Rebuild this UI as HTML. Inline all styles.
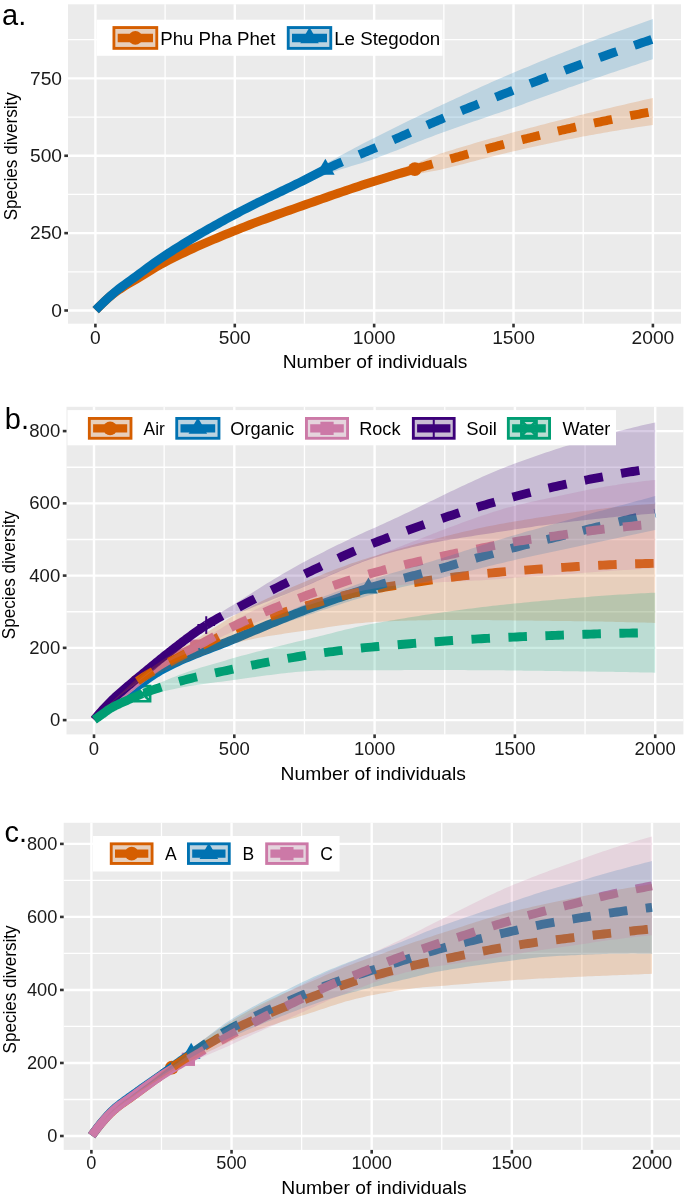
<!DOCTYPE html>
<html><head><meta charset="utf-8"><style>html,body{margin:0;padding:0;background:#fff;}svg{display:block;will-change:transform;}</style></head>
<body>
<svg width="685" height="1201" viewBox="0 0 685 1201">
<rect width="685" height="1201" fill="#FFFFFF"/>
<rect x="68" y="4.3" width="613" height="319.4" fill="#EBEBEB"/>
<g stroke="#FFFFFF"><line x1="165.09" y1="4.3" x2="165.09" y2="323.7" stroke-width="1.3"/><line x1="304.46" y1="4.3" x2="304.46" y2="323.7" stroke-width="1.3"/><line x1="443.84" y1="4.3" x2="443.84" y2="323.7" stroke-width="1.3"/><line x1="583.21" y1="4.3" x2="583.21" y2="323.7" stroke-width="1.3"/><line x1="68" y1="271.82" x2="681" y2="271.82" stroke-width="1.3"/><line x1="68" y1="194.45" x2="681" y2="194.45" stroke-width="1.3"/><line x1="68" y1="117.08" x2="681" y2="117.08" stroke-width="1.3"/><line x1="68" y1="39.71" x2="681" y2="39.71" stroke-width="1.3"/><line x1="95.4" y1="4.3" x2="95.4" y2="323.7" stroke-width="2.4"/><line x1="234.78" y1="4.3" x2="234.78" y2="323.7" stroke-width="2.4"/><line x1="374.15" y1="4.3" x2="374.15" y2="323.7" stroke-width="2.4"/><line x1="513.52" y1="4.3" x2="513.52" y2="323.7" stroke-width="2.4"/><line x1="652.9" y1="4.3" x2="652.9" y2="323.7" stroke-width="2.4"/><line x1="68" y1="310.5" x2="681" y2="310.5" stroke-width="2.4"/><line x1="68" y1="233.13" x2="681" y2="233.13" stroke-width="2.4"/><line x1="68" y1="155.76" x2="681" y2="155.76" stroke-width="2.4"/><line x1="68" y1="78.4" x2="681" y2="78.4" stroke-width="2.4"/></g>
<circle cx="414.85" cy="169.07" r="6.9" fill="#D55E00"/>
<path d="M325.37,158.65 L334.66,174.75 L316.08,174.75Z" fill="#0072B2"/>
<path d="M95.68,310.19 L99.72,306.07 L103.76,302.12 L107.8,298.41 L111.84,295.01 L115.88,291.94 L119.92,289.14 L123.96,286.53 L128,284.07 L132.04,281.68 L136.08,279.33 L140.12,276.94 L144.16,274.49 L148.2,271.99 L152.24,269.5 L156.28,267.06 L160.32,264.71 L164.36,262.48 L168.4,260.38 L172.44,258.32 L176.48,256.3 L180.52,254.33 L184.56,252.4 L188.6,250.5 L192.64,248.64 L196.68,246.81 L200.72,245.01 L204.76,243.23 L208.8,241.48 L212.84,239.76 L216.88,238.05 L220.92,236.37 L224.96,234.7 L229,233.04 L233.04,231.39 L237.08,229.76 L241.12,228.15 L245.16,226.56 L249.2,225 L253.24,223.46 L257.28,221.94 L261.32,220.44 L265.36,218.95 L269.4,217.47 L273.44,216.01 L277.48,214.56 L281.52,213.12 L285.56,211.68 L289.6,210.25 L293.64,208.82 L297.68,207.4 L301.72,205.97 L305.76,204.54 L309.8,203.11 L313.84,201.69 L317.88,200.26 L321.92,198.84 L325.97,197.43 L330.01,196.02 L334.05,194.62 L338.09,193.23 L342.13,191.85 L346.17,190.47 L350.21,189.11 L354.25,187.75 L358.29,186.41 L362.33,185.08 L366.37,183.76 L370.41,182.46 L374.45,181.17 L378.49,179.9 L382.53,178.66 L386.57,177.42 L390.61,176.21 L394.65,175.01 L398.69,173.81 L402.73,172.62 L406.77,171.44 L410.81,170.26 L414.85,169.07" fill="none" stroke="#D55E00" stroke-width="8.9"/>
<path d="M95.68,310.19 L98.59,307.21 L101.49,304.3 L104.4,301.47 L107.31,298.73 L110.22,296.09 L113.12,293.55 L116.03,291.14 L118.94,288.83 L121.85,286.61 L124.75,284.45 L127.66,282.34 L130.57,280.24 L133.48,278.15 L136.38,276.04 L139.29,273.9 L142.2,271.74 L145.11,269.59 L148.01,267.44 L150.92,265.31 L153.83,263.2 L156.74,261.12 L159.64,259.09 L162.55,257.1 L165.46,255.17 L168.37,253.28 L171.27,251.41 L174.18,249.56 L177.09,247.72 L180,245.91 L182.9,244.11 L185.81,242.33 L188.72,240.57 L191.63,238.83 L194.53,237.1 L197.44,235.39 L200.35,233.69 L203.26,232 L206.16,230.33 L209.07,228.67 L211.98,227.03 L214.88,225.4 L217.79,223.77 L220.7,222.16 L223.61,220.56 L226.51,218.97 L229.42,217.39 L232.33,215.82 L235.24,214.25 L238.14,212.71 L241.05,211.18 L243.96,209.67 L246.87,208.18 L249.77,206.71 L252.68,205.24 L255.59,203.8 L258.5,202.36 L261.4,200.94 L264.31,199.52 L267.22,198.11 L270.13,196.7 L273.03,195.3 L275.94,193.9 L278.85,192.5 L281.76,191.11 L284.66,189.7 L287.57,188.3 L290.48,186.89 L293.39,185.48 L296.29,184.05 L299.2,182.62 L302.11,181.17 L305.02,179.72 L307.92,178.23 L310.83,176.73 L313.74,175.22 L316.65,173.71 L319.55,172.23 L322.46,170.78 L325.37,169.38" fill="none" stroke="#0072B2" stroke-width="8.9"/>
<path d="M414.85,169.07 L416.34,168.63 L417.84,168.19 L419.34,167.76 L420.84,167.32 L422.33,166.88 L423.83,166.45 L425.33,166.01 L426.82,165.58 L428.32,165.14 L429.82,164.71 L431.32,164.28 L432.81,163.85 L434.31,163.42 L435.81,162.99 L437.31,162.56 L438.8,162.14 L440.3,161.71 L441.8,161.29 L443.29,160.87 L444.79,160.45 L446.29,160.03 L447.79,159.61 L449.28,159.19 L450.78,158.77 L452.28,158.35 L453.77,157.93 L455.27,157.51 L456.77,157.09 L458.27,156.68 L459.76,156.26 L461.26,155.84 L462.76,155.42 L464.25,155.01 L465.75,154.59 L467.25,154.18 L468.75,153.76 L470.24,153.35 L471.74,152.93 L473.24,152.52 L474.73,152.11 L476.23,151.7 L477.73,151.29 L479.23,150.88 L480.72,150.47 L482.22,150.06 L483.72,149.66 L485.22,149.25 L486.71,148.85 L488.21,148.45 L489.71,148.04 L491.2,147.64 L492.7,147.24 L494.2,146.85 L495.7,146.45 L497.19,146.05 L498.69,145.66 L500.19,145.27 L501.68,144.88 L503.18,144.49 L504.68,144.1 L506.18,143.71 L507.67,143.33 L509.17,142.94 L510.67,142.56 L512.16,142.18 L513.66,141.8 L515.16,141.43 L516.66,141.05 L518.15,140.68 L519.65,140.3 L521.15,139.93 L522.64,139.56 L524.14,139.19 L525.64,138.82 L527.14,138.45 L528.63,138.08 L530.13,137.71 L531.63,137.35 L533.13,136.98 L534.62,136.62 L536.12,136.26 L537.62,135.89 L539.11,135.53 L540.61,135.17 L542.11,134.81 L543.61,134.46 L545.1,134.1 L546.6,133.74 L548.1,133.39 L549.59,133.04 L551.09,132.69 L552.59,132.34 L554.09,131.99 L555.58,131.64 L557.08,131.29 L558.58,130.94 L560.07,130.6 L561.57,130.26 L563.07,129.91 L564.57,129.57 L566.06,129.23 L567.56,128.9 L569.06,128.56 L570.55,128.22 L572.05,127.89 L573.55,127.55 L575.05,127.22 L576.54,126.89 L578.04,126.56 L579.54,126.24 L581.04,125.91 L582.53,125.58 L584.03,125.26 L585.53,124.94 L587.02,124.62 L588.52,124.3 L590.02,123.98 L591.52,123.66 L593.01,123.34 L594.51,123.02 L596.01,122.71 L597.5,122.39 L599,122.08 L600.5,121.77 L602,121.45 L603.49,121.14 L604.99,120.83 L606.49,120.53 L607.98,120.22 L609.48,119.91 L610.98,119.61 L612.48,119.3 L613.97,119 L615.47,118.7 L616.97,118.4 L618.46,118.1 L619.96,117.8 L621.46,117.5 L622.96,117.2 L624.45,116.91 L625.95,116.61 L627.45,116.32 L628.95,116.03 L630.44,115.74 L631.94,115.45 L633.44,115.16 L634.93,114.87 L636.43,114.58 L637.93,114.3 L639.43,114.01 L640.92,113.73 L642.42,113.45 L643.92,113.17 L645.41,112.89 L646.91,112.61 L648.41,112.33 L649.91,112.06 L651.4,111.78 L652.9,111.51" fill="none" stroke="#D55E00" stroke-width="8.9" stroke-dasharray="18.5 18.5" stroke-dashoffset="0"/>
<path d="M325.37,169.38 L327.43,168.42 L329.49,167.47 L331.55,166.53 L333.61,165.6 L335.67,164.68 L337.73,163.78 L339.79,162.88 L341.85,161.99 L343.91,161.11 L345.97,160.23 L348.03,159.36 L350.09,158.49 L352.15,157.62 L354.21,156.76 L356.27,155.9 L358.33,155.04 L360.39,154.18 L362.45,153.31 L364.51,152.45 L366.57,151.58 L368.63,150.71 L370.69,149.83 L372.75,148.94 L374.81,148.05 L376.87,147.16 L378.93,146.26 L380.99,145.36 L383.05,144.46 L385.11,143.56 L387.17,142.65 L389.23,141.75 L391.29,140.84 L393.35,139.93 L395.41,139.02 L397.47,138.11 L399.53,137.21 L401.59,136.3 L403.65,135.39 L405.71,134.48 L407.77,133.57 L409.83,132.66 L411.89,131.76 L413.95,130.85 L416.01,129.95 L418.07,129.05 L420.13,128.15 L422.19,127.25 L424.25,126.36 L426.31,125.46 L428.37,124.57 L430.43,123.69 L432.49,122.81 L434.55,121.93 L436.61,121.05 L438.67,120.18 L440.73,119.31 L442.79,118.45 L444.85,117.59 L446.91,116.73 L448.97,115.88 L451.03,115.03 L453.09,114.19 L455.15,113.34 L457.21,112.5 L459.27,111.66 L461.33,110.82 L463.39,109.99 L465.45,109.16 L467.5,108.33 L469.56,107.5 L471.62,106.67 L473.68,105.85 L475.74,105.03 L477.8,104.2 L479.86,103.39 L481.92,102.57 L483.98,101.75 L486.04,100.94 L488.1,100.12 L490.16,99.31 L492.22,98.5 L494.28,97.69 L496.34,96.88 L498.4,96.07 L500.46,95.27 L502.52,94.46 L504.58,93.65 L506.64,92.85 L508.7,92.04 L510.76,91.24 L512.82,90.43 L514.88,89.63 L516.94,88.82 L519,88.02 L521.06,87.21 L523.12,86.41 L525.18,85.61 L527.24,84.81 L529.3,84 L531.36,83.2 L533.42,82.4 L535.48,81.61 L537.54,80.81 L539.6,80.01 L541.66,79.21 L543.72,78.42 L545.78,77.63 L547.84,76.84 L549.9,76.05 L551.96,75.26 L554.02,74.47 L556.08,73.68 L558.14,72.9 L560.2,72.12 L562.26,71.34 L564.32,70.56 L566.38,69.79 L568.44,69.01 L570.5,68.24 L572.56,67.47 L574.62,66.71 L576.68,65.95 L578.74,65.18 L580.8,64.43 L582.86,63.67 L584.92,62.92 L586.98,62.17 L589.04,61.42 L591.1,60.67 L593.16,59.92 L595.22,59.18 L597.28,58.44 L599.34,57.7 L601.4,56.96 L603.46,56.22 L605.52,55.49 L607.58,54.75 L609.64,54.02 L611.7,53.29 L613.76,52.57 L615.82,51.84 L617.88,51.12 L619.94,50.39 L622,49.67 L624.06,48.95 L626.12,48.24 L628.18,47.52 L630.24,46.81 L632.3,46.1 L634.36,45.39 L636.42,44.68 L638.48,43.98 L640.54,43.27 L642.6,42.57 L644.66,41.87 L646.72,41.18 L648.78,40.48 L650.84,39.79 L652.9,39.09" fill="none" stroke="#0072B2" stroke-width="8.9" stroke-dasharray="18.5 18.5" stroke-dashoffset="0"/>
<path d="M95.68,310.19 L99.18,306.6 L102.69,303.14 L106.19,299.85 L109.7,296.77 L113.2,293.93 L116.71,291.34 L120.21,288.93 L123.72,286.67 L127.22,284.51 L130.72,282.42 L134.23,280.37 L137.73,278.32 L141.24,276.22 L144.74,274.07 L148.25,271.9 L151.75,269.73 L155.26,267.59 L158.76,265.51 L162.26,263.52 L165.77,261.63 L169.27,259.8 L172.78,258.01 L176.28,256.25 L179.79,254.52 L183.29,252.82 L186.8,251.15 L190.3,249.51 L193.81,247.89 L197.31,246.29 L200.81,244.71 L204.32,243.16 L207.82,241.62 L211.33,240.1 L214.83,238.59 L218.34,237.1 L221.84,235.63 L225.35,234.16 L228.85,232.7 L232.36,231.25 L235.86,229.81 L239.36,228.38 L242.87,226.97 L246.37,225.58 L249.88,224.21 L253.38,222.85 L256.89,221.51 L260.39,220.18 L263.9,218.86 L267.4,217.55 L270.91,216.25 L274.41,214.96 L277.91,213.68 L281.42,212.4 L284.92,211.13 L288.43,209.86 L291.93,208.59 L295.44,207.31 L298.94,206.02 L302.45,204.73 L305.95,203.43 L309.46,202.12 L312.96,200.81 L316.46,199.5 L319.97,198.18 L323.47,196.86 L326.98,195.54 L330.48,194.22 L333.99,192.89 L337.49,191.57 L341,190.25 L344.5,188.93 L348.01,187.61 L351.51,186.3 L355.01,184.99 L358.52,183.68 L362.02,182.38 L365.53,181.08 L369.03,179.79 L372.54,178.51 L376.04,177.23 L379.55,175.97 L383.05,174.72 L386.56,173.47 L390.06,172.24 L393.56,171.01 L397.07,169.78 L400.57,168.56 L404.08,167.34 L407.58,166.12 L411.09,164.89 L414.59,163.66 L418.1,162.39 L421.6,161.03 L425.11,159.63 L428.61,158.21 L432.11,156.79 L435.62,155.42 L439.12,154.11 L442.63,152.91 L446.13,151.8 L449.64,150.71 L453.14,149.63 L456.65,148.56 L460.15,147.5 L463.66,146.45 L467.16,145.42 L470.66,144.39 L474.17,143.36 L477.67,142.35 L481.18,141.34 L484.68,140.34 L488.19,139.35 L491.69,138.37 L495.2,137.39 L498.7,136.41 L502.2,135.44 L505.71,134.48 L509.21,133.52 L512.72,132.56 L516.22,131.61 L519.73,130.66 L523.23,129.71 L526.74,128.77 L530.24,127.84 L533.75,126.91 L537.25,125.99 L540.75,125.07 L544.26,124.15 L547.76,123.24 L551.27,122.34 L554.77,121.44 L558.28,120.55 L561.78,119.66 L565.29,118.77 L568.79,117.9 L572.3,117.02 L575.8,116.16 L579.3,115.29 L582.81,114.44 L586.31,113.58 L589.82,112.73 L593.32,111.88 L596.83,111.04 L600.33,110.2 L603.84,109.36 L607.34,108.52 L610.85,107.69 L614.35,106.86 L617.85,106.03 L621.36,105.21 L624.86,104.4 L628.37,103.58 L631.87,102.77 L635.38,101.97 L638.88,101.17 L642.39,100.37 L645.89,99.58 L649.4,98.79 L652.9,98.01 L652.9,125.01 L649.4,125.51 L645.89,126.02 L642.39,126.54 L638.88,127.07 L635.38,127.6 L631.87,128.14 L628.37,128.7 L624.86,129.26 L621.36,129.82 L617.85,130.4 L614.35,130.98 L610.85,131.58 L607.34,132.18 L603.84,132.79 L600.33,133.4 L596.83,134.03 L593.32,134.66 L589.82,135.31 L586.31,135.96 L582.81,136.61 L579.3,137.28 L575.8,137.96 L572.3,138.64 L568.79,139.34 L565.29,140.04 L561.78,140.76 L558.28,141.48 L554.77,142.21 L551.27,142.95 L547.76,143.7 L544.26,144.45 L540.75,145.21 L537.25,145.98 L533.75,146.75 L530.24,147.53 L526.74,148.32 L523.23,149.11 L519.73,149.91 L516.22,150.72 L512.72,151.53 L509.21,152.35 L505.71,153.19 L502.2,154.04 L498.7,154.9 L495.2,155.77 L491.69,156.66 L488.19,157.55 L484.68,158.45 L481.18,159.35 L477.67,160.26 L474.17,161.17 L470.66,162.08 L467.16,162.99 L463.66,163.89 L460.15,164.8 L456.65,165.7 L453.14,166.59 L449.64,167.47 L446.13,168.35 L442.63,169.21 L439.12,169.98 L435.62,170.67 L432.11,171.3 L428.61,171.91 L425.11,172.52 L421.6,173.16 L418.1,173.85 L414.59,174.63 L411.09,175.46 L407.58,176.28 L404.08,177.11 L400.57,177.95 L397.07,178.79 L393.56,179.64 L390.06,180.51 L386.56,181.38 L383.05,182.27 L379.55,183.18 L376.04,184.1 L372.54,185.05 L369.03,186.01 L365.53,186.99 L362.02,187.98 L358.52,188.98 L355.01,190 L351.51,191.04 L348.01,192.08 L344.5,193.14 L341,194.21 L337.49,195.3 L333.99,196.39 L330.48,197.5 L326.98,198.62 L323.47,199.74 L319.97,200.88 L316.46,202.03 L312.96,203.18 L309.46,204.35 L305.95,205.52 L302.45,206.7 L298.94,207.89 L295.44,209.08 L291.93,210.27 L288.43,211.48 L284.92,212.69 L281.42,213.91 L277.91,215.14 L274.41,216.37 L270.91,217.61 L267.4,218.85 L263.9,220.11 L260.39,221.38 L256.89,222.66 L253.38,223.96 L249.88,225.27 L246.37,226.6 L242.87,227.94 L239.36,229.31 L235.86,230.69 L232.36,232.09 L228.85,233.5 L225.35,234.92 L221.84,236.34 L218.34,237.78 L214.83,239.24 L211.33,240.71 L207.82,242.19 L204.32,243.7 L200.81,245.22 L197.31,246.76 L193.81,248.33 L190.3,249.92 L186.8,251.53 L183.29,253.18 L179.79,254.85 L176.28,256.55 L172.78,258.29 L169.27,260.05 L165.77,261.86 L162.26,263.72 L158.76,265.7 L155.26,267.76 L151.75,269.88 L148.25,272.03 L144.74,274.18 L141.24,276.32 L137.73,278.4 L134.23,280.44 L130.72,282.48 L127.22,284.56 L123.72,286.7 L120.21,288.96 L116.71,291.36 L113.2,293.94 L109.7,296.78 L106.19,299.86 L102.69,303.15 L99.18,306.6 L95.68,310.19Z" fill="#D55E00" fill-opacity="0.2"/>
<path d="M95.68,310.19 L99.18,306.6 L102.69,303.12 L106.19,299.76 L109.7,296.54 L113.2,293.47 L116.71,290.57 L120.21,287.82 L123.72,285.18 L127.22,282.61 L130.72,280.08 L134.23,277.54 L137.73,274.97 L141.24,272.36 L144.74,269.75 L148.25,267.15 L151.75,264.56 L155.26,262.02 L158.76,259.52 L162.26,257.1 L165.77,254.75 L169.27,252.45 L172.78,250.18 L176.28,247.94 L179.79,245.73 L183.29,243.54 L186.8,241.37 L190.3,239.23 L193.81,237.11 L197.31,235.01 L200.81,232.94 L204.32,230.88 L207.82,228.84 L211.33,226.82 L214.83,224.82 L218.34,222.83 L221.84,220.86 L225.35,218.9 L228.85,216.95 L232.36,215.02 L235.86,213.09 L239.36,211.17 L242.87,209.27 L246.37,207.38 L249.88,205.5 L253.38,203.63 L256.89,201.76 L260.39,199.9 L263.9,198.04 L267.4,196.18 L270.91,194.31 L274.41,192.44 L277.91,190.57 L281.42,188.69 L284.92,186.79 L288.43,184.89 L291.93,182.97 L295.44,181.03 L298.94,179.08 L302.45,177.1 L305.95,175.1 L309.46,173.06 L312.96,171 L316.46,168.94 L319.97,166.9 L323.47,164.92 L326.98,163.01 L330.48,161.1 L333.99,159.19 L337.49,157.28 L341,155.37 L344.5,153.46 L348.01,151.56 L351.51,149.67 L355.01,147.79 L358.52,145.92 L362.02,144.07 L365.53,142.24 L369.03,140.44 L372.54,138.65 L376.04,136.89 L379.55,135.14 L383.05,133.39 L386.56,131.64 L390.06,129.91 L393.56,128.17 L397.07,126.45 L400.57,124.73 L404.08,123.01 L407.58,121.3 L411.09,119.6 L414.59,117.91 L418.1,116.22 L421.6,114.53 L425.11,112.86 L428.61,111.19 L432.11,109.52 L435.62,107.87 L439.12,106.22 L442.63,104.57 L446.13,102.94 L449.64,101.3 L453.14,99.67 L456.65,98.05 L460.15,96.42 L463.66,94.8 L467.16,93.19 L470.66,91.58 L474.17,89.98 L477.67,88.39 L481.18,86.8 L484.68,85.23 L488.19,83.66 L491.69,82.1 L495.2,80.55 L498.7,79.02 L502.2,77.49 L505.71,75.98 L509.21,74.48 L512.72,73 L516.22,71.52 L519.73,70.06 L523.23,68.59 L526.74,67.14 L530.24,65.69 L533.75,64.24 L537.25,62.8 L540.75,61.37 L544.26,59.94 L547.76,58.52 L551.27,57.11 L554.77,55.7 L558.28,54.3 L561.78,52.91 L565.29,51.52 L568.79,50.14 L572.3,48.77 L575.8,47.41 L579.3,46.05 L582.81,44.7 L586.31,43.35 L589.82,42.02 L593.32,40.69 L596.83,39.36 L600.33,38.04 L603.84,36.73 L607.34,35.42 L610.85,34.12 L614.35,32.82 L617.85,31.53 L621.36,30.25 L624.86,28.97 L628.37,27.7 L631.87,26.44 L635.38,25.18 L638.88,23.93 L642.39,22.69 L645.89,21.45 L649.4,20.22 L652.9,18.99 L652.9,59.19 L649.4,60.33 L645.89,61.46 L642.39,62.6 L638.88,63.75 L635.38,64.9 L631.87,66.05 L628.37,67.21 L624.86,68.38 L621.36,69.55 L617.85,70.72 L614.35,71.89 L610.85,73.08 L607.34,74.26 L603.84,75.45 L600.33,76.65 L596.83,77.84 L593.32,79.05 L589.82,80.26 L586.31,81.47 L582.81,82.68 L579.3,83.91 L575.8,85.14 L572.3,86.38 L568.79,87.62 L565.29,88.88 L561.78,90.13 L558.28,91.4 L554.77,92.66 L551.27,93.93 L547.76,95.21 L544.26,96.48 L540.75,97.76 L537.25,99.04 L533.75,100.32 L530.24,101.59 L526.74,102.87 L523.23,104.14 L519.73,105.42 L516.22,106.68 L512.72,107.95 L509.21,109.2 L505.71,110.44 L502.2,111.67 L498.7,112.9 L495.2,114.11 L491.69,115.32 L488.19,116.53 L484.68,117.73 L481.18,118.93 L477.67,120.13 L474.17,121.33 L470.66,122.53 L467.16,123.74 L463.66,124.96 L460.15,126.18 L456.65,127.41 L453.14,128.65 L449.64,129.91 L446.13,131.17 L442.63,132.45 L439.12,133.75 L435.62,135.07 L432.11,136.41 L428.61,137.75 L425.11,139.11 L421.6,140.48 L418.1,141.85 L414.59,143.23 L411.09,144.62 L407.58,146 L404.08,147.38 L400.57,148.76 L397.07,150.13 L393.56,151.5 L390.06,152.86 L386.56,154.2 L383.05,155.53 L379.55,156.85 L376.04,158.15 L372.54,159.42 L369.03,160.63 L365.53,161.79 L362.02,162.91 L358.52,163.99 L355.01,165.05 L351.51,166.11 L348.01,167.17 L344.5,168.24 L341,169.34 L337.49,170.48 L333.99,171.67 L330.48,172.92 L326.98,174.25 L323.47,175.65 L319.97,177.14 L316.46,178.68 L312.96,180.25 L309.46,181.83 L305.95,183.39 L302.45,184.91 L298.94,186.42 L295.44,187.91 L291.93,189.4 L288.43,190.88 L284.92,192.37 L281.42,193.85 L277.91,195.34 L274.41,196.83 L270.91,198.34 L267.4,199.86 L263.9,201.4 L260.39,202.96 L256.89,204.55 L253.38,206.16 L249.88,207.8 L246.37,209.48 L242.87,211.2 L239.36,212.95 L235.86,214.75 L232.36,216.59 L228.85,218.45 L225.35,220.32 L221.84,222.21 L218.34,224.11 L214.83,226.03 L211.33,227.97 L207.82,229.92 L204.32,231.9 L200.81,233.89 L197.31,235.91 L193.81,237.95 L190.3,240.01 L186.8,242.1 L183.29,244.21 L179.79,246.35 L176.28,248.51 L172.78,250.71 L169.27,252.93 L165.77,255.19 L162.26,257.49 L158.76,259.88 L155.26,262.33 L151.75,264.85 L148.25,267.39 L144.74,269.97 L141.24,272.55 L137.73,275.13 L134.23,277.68 L130.72,280.19 L127.22,282.7 L123.72,285.25 L120.21,287.88 L116.71,290.61 L113.2,293.5 L109.7,296.56 L106.19,299.77 L102.69,303.13 L99.18,306.6 L95.68,310.19Z" fill="#0072B2" fill-opacity="0.2"/>
<g stroke="#333333" stroke-width="2.6"><line x1="95.4" y1="323.7" x2="95.4" y2="327.4"/><line x1="234.78" y1="323.7" x2="234.78" y2="327.4"/><line x1="374.15" y1="323.7" x2="374.15" y2="327.4"/><line x1="513.52" y1="323.7" x2="513.52" y2="327.4"/><line x1="652.9" y1="323.7" x2="652.9" y2="327.4"/><line x1="64.3" y1="310.5" x2="68" y2="310.5"/><line x1="64.3" y1="233.13" x2="68" y2="233.13"/><line x1="64.3" y1="155.76" x2="68" y2="155.76"/></g>
<g font-family="Liberation Sans, sans-serif" font-size="19.2" fill="#1A1A1A"><text x="95.4" y="344.1" text-anchor="middle">0</text><text x="234.78" y="344.1" text-anchor="middle">500</text><text x="374.15" y="344.1" text-anchor="middle">1000</text><text x="513.52" y="344.1" text-anchor="middle">1500</text><text x="652.9" y="344.1" text-anchor="middle">2000</text><text x="62" y="316.74" text-anchor="end">0</text><text x="62" y="239.37" text-anchor="end">250</text><text x="62" y="162" text-anchor="end">500</text><text x="62" y="84.64" text-anchor="end">750</text></g>
<rect x="96.7" y="19.7" width="345.8" height="36.1" fill="#FFFFFF"/>
<rect x="112.5" y="26.1" width="45.7" height="23.7" fill="#D55E00"/>
<rect x="115.4" y="29" width="39.9" height="17.9" fill="#EBEBEB"/>
<rect x="115.4" y="29" width="39.9" height="17.9" fill="#D55E00" fill-opacity="0.2"/>
<line x1="117.7" y1="37.95" x2="153" y2="37.95" stroke="#D55E00" stroke-width="8.4"/>
<circle cx="135.35" cy="37.95" r="6.9" fill="#D55E00"/>
<text x="160.2" y="44.54" font-family="Liberation Sans, sans-serif" font-size="18.3" fill="#000" textLength="115.2" lengthAdjust="spacingAndGlyphs">Phu Pha Phet</text>
<rect x="286.8" y="26.1" width="45.4" height="23.7" fill="#0072B2"/>
<rect x="289.7" y="29" width="39.6" height="17.9" fill="#EBEBEB"/>
<rect x="289.7" y="29" width="39.6" height="17.9" fill="#0072B2" fill-opacity="0.2"/>
<line x1="292" y1="37.95" x2="327" y2="37.95" stroke="#0072B2" stroke-width="8.4"/>
<path d="M309.5,27.22 L318.79,43.32 L300.21,43.32Z" fill="#0072B2"/>
<text x="334.2" y="44.54" font-family="Liberation Sans, sans-serif" font-size="18.3" fill="#000" textLength="106.1" lengthAdjust="spacingAndGlyphs">Le Stegodon</text>
<rect x="66.5" y="406.8" width="616.9" height="327.6" fill="#EBEBEB"/>
<g stroke="#FFFFFF"><line x1="164.15" y1="406.8" x2="164.15" y2="734.4" stroke-width="1.3"/><line x1="304.45" y1="406.8" x2="304.45" y2="734.4" stroke-width="1.3"/><line x1="444.75" y1="406.8" x2="444.75" y2="734.4" stroke-width="1.3"/><line x1="585.05" y1="406.8" x2="585.05" y2="734.4" stroke-width="1.3"/><line x1="66.5" y1="683.98" x2="683.4" y2="683.98" stroke-width="1.3"/><line x1="66.5" y1="611.73" x2="683.4" y2="611.73" stroke-width="1.3"/><line x1="66.5" y1="539.48" x2="683.4" y2="539.48" stroke-width="1.3"/><line x1="66.5" y1="467.23" x2="683.4" y2="467.23" stroke-width="1.3"/><line x1="94" y1="406.8" x2="94" y2="734.4" stroke-width="2.4"/><line x1="234.3" y1="406.8" x2="234.3" y2="734.4" stroke-width="2.4"/><line x1="374.6" y1="406.8" x2="374.6" y2="734.4" stroke-width="2.4"/><line x1="514.9" y1="406.8" x2="514.9" y2="734.4" stroke-width="2.4"/><line x1="655.2" y1="406.8" x2="655.2" y2="734.4" stroke-width="2.4"/><line x1="66.5" y1="720.1" x2="683.4" y2="720.1" stroke-width="2.4"/><line x1="66.5" y1="647.85" x2="683.4" y2="647.85" stroke-width="2.4"/><line x1="66.5" y1="575.6" x2="683.4" y2="575.6" stroke-width="2.4"/><line x1="66.5" y1="503.35" x2="683.4" y2="503.35" stroke-width="2.4"/><line x1="66.5" y1="431.1" x2="683.4" y2="431.1" stroke-width="2.4"/></g>
<circle cx="137.49" cy="681.09" r="6.9" fill="#D55E00"/>
<path d="M368.43,577.41 L377.72,593.5 L359.13,593.5Z" fill="#0072B2"/>
<rect x="190.08" y="639.56" width="13.25" height="13.25" fill="#CC79A7"/>
<path d="M197.41,625.09 H215.07 M206.24,616.26 V633.92" stroke="#3C007A" stroke-width="2.0" fill="none"/>
<path d="M134.95,686.14 h15.18 v15.18 h-15.18Z M134.95,686.14 L150.13,701.32 M150.13,686.14 L134.95,701.32" stroke="#009E73" stroke-width="2.6" fill="none"/>
<path d="M94.28,719.74 L94.83,719.15 L95.37,718.57 L95.92,717.99 L96.47,717.41 L97.02,716.83 L97.56,716.25 L98.11,715.68 L98.66,715.11 L99.2,714.54 L99.75,713.97 L100.3,713.41 L100.84,712.85 L101.39,712.29 L101.94,711.73 L102.49,711.18 L103.03,710.63 L103.58,710.08 L104.13,709.53 L104.67,708.99 L105.22,708.45 L105.77,707.92 L106.31,707.38 L106.86,706.85 L107.41,706.33 L107.96,705.81 L108.5,705.29 L109.05,704.77 L109.6,704.26 L110.14,703.76 L110.69,703.25 L111.24,702.75 L111.78,702.26 L112.33,701.76 L112.88,701.26 L113.43,700.76 L113.97,700.27 L114.52,699.77 L115.07,699.28 L115.61,698.79 L116.16,698.3 L116.71,697.81 L117.25,697.32 L117.8,696.83 L118.35,696.35 L118.9,695.87 L119.44,695.38 L119.99,694.91 L120.54,694.43 L121.08,693.95 L121.63,693.48 L122.18,693.01 L122.72,692.54 L123.27,692.07 L123.82,691.61 L124.37,691.15 L124.91,690.69 L125.46,690.24 L126.01,689.78 L126.55,689.33 L127.1,688.89 L127.65,688.44 L128.19,688 L128.74,687.57 L129.29,687.13 L129.84,686.7 L130.38,686.28 L130.93,685.85 L131.48,685.43 L132.02,685.02 L132.57,684.6 L133.12,684.2 L133.66,683.79 L134.21,683.39 L134.76,683 L135.31,682.61 L135.85,682.22 L136.4,681.84 L136.95,681.46 L137.49,681.09" fill="none" stroke="#D55E00" stroke-width="8.9"/>
<path d="M94.28,719.74 L97.75,716.36 L101.22,713.12 L104.69,710.02 L108.16,707.08 L111.63,704.31 L115.1,701.74 L118.57,699.32 L122.04,696.99 L125.51,694.69 L128.98,692.35 L132.45,689.93 L135.92,687.44 L139.39,684.93 L142.86,682.4 L146.33,679.9 L149.8,677.46 L153.27,675.09 L156.74,672.84 L160.21,670.72 L163.68,668.76 L167.15,666.94 L170.63,665.19 L174.1,663.51 L177.57,661.88 L181.04,660.31 L184.51,658.79 L187.98,657.3 L191.45,655.86 L194.92,654.45 L198.39,653.06 L201.86,651.7 L205.33,650.35 L208.8,649.02 L212.27,647.68 L215.74,646.35 L219.21,645.01 L222.68,643.67 L226.15,642.3 L229.62,640.91 L233.09,639.5 L236.56,638.06 L240.03,636.61 L243.5,635.16 L246.97,633.7 L250.44,632.24 L253.91,630.77 L257.38,629.31 L260.85,627.85 L264.32,626.4 L267.79,624.94 L271.26,623.5 L274.73,622.06 L278.2,620.63 L281.67,619.22 L285.14,617.81 L288.61,616.42 L292.08,615.04 L295.55,613.68 L299.02,612.34 L302.49,611.02 L305.96,609.71 L309.43,608.42 L312.9,607.13 L316.37,605.86 L319.84,604.59 L323.31,603.33 L326.78,602.08 L330.25,600.84 L333.72,599.61 L337.19,598.4 L340.67,597.2 L344.14,596.01 L347.61,594.84 L351.08,593.68 L354.55,592.53 L358.02,591.41 L361.49,590.3 L364.96,589.21 L368.43,588.14" fill="none" stroke="#0072B2" stroke-width="8.9"/>
<path d="M94.28,719.74 L95.58,718.33 L96.87,716.93 L98.17,715.55 L99.47,714.19 L100.76,712.85 L102.06,711.53 L103.36,710.23 L104.65,708.94 L105.95,707.68 L107.25,706.44 L108.54,705.22 L109.84,704.03 L111.13,702.85 L112.43,701.71 L113.73,700.58 L115.02,699.48 L116.32,698.39 L117.62,697.32 L118.91,696.27 L120.21,695.23 L121.51,694.2 L122.8,693.18 L124.1,692.16 L125.4,691.16 L126.69,690.15 L127.99,689.15 L129.28,688.15 L130.58,687.14 L131.88,686.13 L133.17,685.12 L134.47,684.11 L135.77,683.09 L137.06,682.08 L138.36,681.07 L139.66,680.06 L140.95,679.05 L142.25,678.05 L143.55,677.06 L144.84,676.07 L146.14,675.08 L147.43,674.11 L148.73,673.14 L150.03,672.19 L151.32,671.24 L152.62,670.31 L153.92,669.39 L155.21,668.49 L156.51,667.6 L157.81,666.73 L159.1,665.87 L160.4,665.03 L161.7,664.21 L162.99,663.41 L164.29,662.63 L165.58,661.87 L166.88,661.13 L168.18,660.41 L169.47,659.7 L170.77,659 L172.07,658.32 L173.36,657.65 L174.66,657 L175.96,656.35 L177.25,655.71 L178.55,655.07 L179.85,654.44 L181.14,653.82 L182.44,653.2 L183.74,652.58 L185.03,651.96 L186.33,651.34 L187.62,650.71 L188.92,650.09 L190.22,649.46 L191.51,648.82 L192.81,648.18 L194.11,647.52 L195.4,646.86 L196.7,646.19" fill="none" stroke="#CC79A7" stroke-width="8.9"/>
<path d="M94.28,719.74 L95.7,718.02 L97.12,716.33 L98.53,714.66 L99.95,713.02 L101.37,711.4 L102.78,709.81 L104.2,708.24 L105.62,706.71 L107.04,705.2 L108.45,703.72 L109.87,702.28 L111.29,700.87 L112.7,699.49 L114.12,698.15 L115.54,696.83 L116.96,695.54 L118.37,694.28 L119.79,693.03 L121.21,691.79 L122.62,690.57 L124.04,689.35 L125.46,688.15 L126.88,686.94 L128.29,685.73 L129.71,684.51 L131.13,683.31 L132.55,682.12 L133.96,680.94 L135.38,679.76 L136.8,678.6 L138.21,677.43 L139.63,676.28 L141.05,675.12 L142.47,673.96 L143.88,672.8 L145.3,671.63 L146.72,670.46 L148.13,669.29 L149.55,668.11 L150.97,666.93 L152.39,665.74 L153.8,664.56 L155.22,663.39 L156.64,662.22 L158.05,661.05 L159.47,659.9 L160.89,658.75 L162.31,657.61 L163.72,656.49 L165.14,655.38 L166.56,654.27 L167.98,653.16 L169.39,652.05 L170.81,650.93 L172.23,649.82 L173.64,648.71 L175.06,647.6 L176.48,646.5 L177.9,645.4 L179.31,644.3 L180.73,643.21 L182.15,642.12 L183.56,641.04 L184.98,639.97 L186.4,638.9 L187.82,637.84 L189.23,636.79 L190.65,635.75 L192.07,634.72 L193.49,633.7 L194.9,632.69 L196.32,631.69 L197.74,630.7 L199.15,629.73 L200.57,628.77 L201.99,627.83 L203.41,626.9 L204.82,625.99 L206.24,625.09" fill="none" stroke="#3C007A" stroke-width="8.9"/>
<path d="M94.28,719.74 L94.89,719.32 L95.5,718.9 L96.11,718.47 L96.72,718.05 L97.34,717.63 L97.95,717.21 L98.56,716.78 L99.17,716.36 L99.78,715.93 L100.39,715.51 L101,715.08 L101.61,714.66 L102.22,714.22 L102.83,713.78 L103.44,713.34 L104.06,712.89 L104.67,712.43 L105.28,711.98 L105.89,711.53 L106.5,711.08 L107.11,710.64 L107.72,710.2 L108.33,709.78 L108.94,709.36 L109.55,708.96 L110.16,708.58 L110.78,708.21 L111.39,707.86 L112,707.52 L112.61,707.18 L113.22,706.85 L113.83,706.53 L114.44,706.21 L115.05,705.9 L115.66,705.59 L116.27,705.29 L116.88,704.99 L117.5,704.7 L118.11,704.41 L118.72,704.12 L119.33,703.84 L119.94,703.56 L120.55,703.28 L121.16,703 L121.77,702.73 L122.38,702.46 L122.99,702.19 L123.61,701.92 L124.22,701.65 L124.83,701.39 L125.44,701.12 L126.05,700.85 L126.66,700.58 L127.27,700.31 L127.88,700.04 L128.49,699.77 L129.1,699.5 L129.71,699.22 L130.33,698.95 L130.94,698.67 L131.55,698.39 L132.16,698.12 L132.77,697.85 L133.38,697.57 L133.99,697.3 L134.6,697.03 L135.21,696.76 L135.82,696.49 L136.43,696.23 L137.05,695.96 L137.66,695.7 L138.27,695.44 L138.88,695.19 L139.49,694.93 L140.1,694.69 L140.71,694.44 L141.32,694.2 L141.93,693.96 L142.54,693.73" fill="none" stroke="#009E73" stroke-width="8.9"/>
<path d="M137.49,681.09 L140.75,678.91 L144.01,676.8 L147.26,674.75 L150.52,672.76 L153.77,670.82 L157.03,668.93 L160.29,667.08 L163.54,665.27 L166.8,663.5 L170.05,661.77 L173.31,660.06 L176.57,658.38 L179.82,656.71 L183.08,655.07 L186.33,653.43 L189.59,651.81 L192.85,650.19 L196.1,648.57 L199.36,646.95 L202.61,645.32 L205.87,643.68 L209.13,642.03 L212.38,640.35 L215.64,638.64 L218.89,636.92 L222.15,635.21 L225.41,633.54 L228.66,631.94 L231.92,630.44 L235.17,629.07 L238.43,627.76 L241.69,626.48 L244.94,625.23 L248.2,624.01 L251.45,622.82 L254.71,621.66 L257.97,620.53 L261.22,619.42 L264.48,618.33 L267.73,617.27 L270.99,616.22 L274.25,615.19 L277.5,614.19 L280.76,613.19 L284.01,612.21 L287.27,611.25 L290.53,610.29 L293.78,609.35 L297.04,608.41 L300.29,607.48 L303.55,606.56 L306.81,605.64 L310.06,604.72 L313.32,603.8 L316.57,602.89 L319.83,601.98 L323.09,601.08 L326.34,600.19 L329.6,599.31 L332.85,598.44 L336.11,597.58 L339.37,596.74 L342.62,595.91 L345.88,595.1 L349.13,594.31 L352.39,593.54 L355.65,592.8 L358.9,592.07 L362.16,591.37 L365.41,590.7 L368.67,590.06 L371.93,589.45 L375.18,588.86 L378.44,588.3 L381.69,587.74 L384.95,587.18 L388.21,586.63 L391.46,586.09 L394.72,585.56 L397.97,585.03 L401.23,584.51 L404.49,583.99 L407.74,583.48 L411,582.98 L414.25,582.49 L417.51,582 L420.77,581.52 L424.02,581.04 L427.28,580.58 L430.53,580.12 L433.79,579.66 L437.05,579.22 L440.3,578.78 L443.56,578.35 L446.81,577.93 L450.07,577.51 L453.33,577.1 L456.58,576.7 L459.84,576.31 L463.09,575.93 L466.35,575.55 L469.61,575.18 L472.86,574.82 L476.12,574.47 L479.37,574.12 L482.63,573.79 L485.89,573.46 L489.14,573.14 L492.4,572.82 L495.66,572.52 L498.91,572.23 L502.17,571.94 L505.42,571.66 L508.68,571.39 L511.94,571.13 L515.19,570.88 L518.45,570.63 L521.7,570.39 L524.96,570.14 L528.22,569.9 L531.47,569.66 L534.73,569.42 L537.98,569.18 L541.24,568.95 L544.5,568.71 L547.75,568.48 L551.01,568.25 L554.26,568.03 L557.52,567.81 L560.78,567.59 L564.03,567.37 L567.29,567.16 L570.54,566.95 L573.8,566.75 L577.06,566.54 L580.31,566.35 L583.57,566.15 L586.82,565.97 L590.08,565.78 L593.34,565.6 L596.59,565.43 L599.85,565.26 L603.1,565.1 L606.36,564.94 L609.62,564.79 L612.87,564.64 L616.13,564.5 L619.38,564.36 L622.64,564.23 L625.9,564.11 L629.15,563.99 L632.41,563.88 L635.66,563.78 L638.92,563.69 L642.18,563.6 L645.43,563.52 L648.69,563.44 L651.94,563.38 L655.2,563.32" fill="none" stroke="#D55E00" stroke-width="8.9" stroke-dasharray="18.5 18.5" stroke-dashoffset="0"/>
<path d="M368.43,588.14 L370.23,587.59 L372.03,587.04 L373.84,586.51 L375.64,585.97 L377.44,585.45 L379.25,584.93 L381.05,584.41 L382.86,583.9 L384.66,583.39 L386.46,582.89 L388.27,582.39 L390.07,581.89 L391.87,581.4 L393.68,580.91 L395.48,580.42 L397.28,579.94 L399.09,579.46 L400.89,578.98 L402.7,578.5 L404.5,578.02 L406.3,577.55 L408.11,577.07 L409.91,576.6 L411.71,576.13 L413.52,575.66 L415.32,575.19 L417.12,574.71 L418.93,574.24 L420.73,573.77 L422.53,573.3 L424.34,572.82 L426.14,572.34 L427.95,571.87 L429.75,571.39 L431.55,570.91 L433.36,570.42 L435.16,569.93 L436.96,569.44 L438.77,568.95 L440.57,568.46 L442.37,567.96 L444.18,567.45 L445.98,566.94 L447.79,566.43 L449.59,565.92 L451.39,565.4 L453.2,564.88 L455,564.36 L456.8,563.84 L458.61,563.32 L460.41,562.79 L462.21,562.26 L464.02,561.74 L465.82,561.21 L467.63,560.69 L469.43,560.16 L471.23,559.64 L473.04,559.11 L474.84,558.59 L476.64,558.07 L478.45,557.55 L480.25,557.04 L482.05,556.53 L483.86,556.02 L485.66,555.51 L487.46,555.01 L489.27,554.5 L491.07,554 L492.88,553.49 L494.68,552.99 L496.48,552.49 L498.29,551.99 L500.09,551.49 L501.89,551 L503.7,550.5 L505.5,550.01 L507.3,549.52 L509.11,549.03 L510.91,548.54 L512.72,548.06 L514.52,547.58 L516.32,547.11 L518.13,546.63 L519.93,546.16 L521.73,545.7 L523.54,545.24 L525.34,544.78 L527.14,544.33 L528.95,543.88 L530.75,543.43 L532.55,542.99 L534.36,542.55 L536.16,542.11 L537.97,541.67 L539.77,541.23 L541.57,540.8 L543.38,540.36 L545.18,539.92 L546.98,539.49 L548.79,539.05 L550.59,538.61 L552.39,538.17 L554.2,537.72 L556,537.27 L557.81,536.83 L559.61,536.38 L561.41,535.92 L563.22,535.47 L565.02,535.02 L566.82,534.56 L568.63,534.11 L570.43,533.66 L572.23,533.2 L574.04,532.75 L575.84,532.29 L577.64,531.84 L579.45,531.39 L581.25,530.93 L583.06,530.48 L584.86,530.03 L586.66,529.58 L588.47,529.14 L590.27,528.69 L592.07,528.25 L593.88,527.81 L595.68,527.36 L597.48,526.93 L599.29,526.49 L601.09,526.05 L602.9,525.61 L604.7,525.18 L606.5,524.74 L608.31,524.31 L610.11,523.87 L611.91,523.44 L613.72,523 L615.52,522.57 L617.32,522.14 L619.13,521.71 L620.93,521.27 L622.74,520.84 L624.54,520.41 L626.34,519.98 L628.15,519.55 L629.95,519.11 L631.75,518.68 L633.56,518.25 L635.36,517.82 L637.16,517.39 L638.97,516.96 L640.77,516.53 L642.57,516.1 L644.38,515.67 L646.18,515.24 L647.99,514.81 L649.79,514.39 L651.59,513.96 L653.4,513.53 L655.2,513.1" fill="none" stroke="#0072B2" stroke-width="8.9" stroke-dasharray="18.5 18.5" stroke-dashoffset="0"/>
<path d="M196.7,646.19 L199.58,644.66 L202.47,643.09 L205.35,641.5 L208.23,639.89 L211.12,638.26 L214,636.64 L216.89,635.02 L219.77,633.41 L222.65,631.83 L225.54,630.27 L228.42,628.76 L231.3,627.29 L234.19,625.87 L237.07,624.49 L239.95,623.13 L242.84,621.78 L245.72,620.45 L248.61,619.13 L251.49,617.83 L254.37,616.55 L257.26,615.28 L260.14,614.02 L263.02,612.77 L265.91,611.54 L268.79,610.32 L271.67,609.12 L274.56,607.93 L277.44,606.74 L280.33,605.57 L283.21,604.41 L286.09,603.27 L288.98,602.13 L291.86,601 L294.74,599.88 L297.63,598.78 L300.51,597.68 L303.39,596.59 L306.28,595.51 L309.16,594.43 L312.05,593.35 L314.93,592.28 L317.81,591.22 L320.7,590.16 L323.58,589.11 L326.46,588.07 L329.35,587.04 L332.23,586.01 L335.11,585 L338,584 L340.88,583 L343.77,582.02 L346.65,581.06 L349.53,580.1 L352.42,579.16 L355.3,578.24 L358.18,577.33 L361.07,576.44 L363.95,575.56 L366.83,574.71 L369.72,573.87 L372.6,573.05 L375.49,572.25 L378.37,571.46 L381.25,570.68 L384.14,569.92 L387.02,569.16 L389.9,568.41 L392.79,567.67 L395.67,566.94 L398.56,566.22 L401.44,565.51 L404.32,564.8 L407.21,564.1 L410.09,563.41 L412.97,562.73 L415.86,562.05 L418.74,561.39 L421.62,560.72 L424.51,560.07 L427.39,559.42 L430.28,558.78 L433.16,558.14 L436.04,557.51 L438.93,556.88 L441.81,556.26 L444.69,555.64 L447.58,555.03 L450.46,554.42 L453.34,553.81 L456.23,553.21 L459.11,552.62 L462,552.02 L464.88,551.43 L467.76,550.84 L470.65,550.26 L473.53,549.67 L476.41,549.09 L479.3,548.51 L482.18,547.94 L485.06,547.36 L487.95,546.79 L490.83,546.22 L493.72,545.65 L496.6,545.09 L499.48,544.54 L502.37,544 L505.25,543.47 L508.13,542.94 L511.02,542.43 L513.9,541.93 L516.78,541.44 L519.67,540.96 L522.55,540.51 L525.44,540.06 L528.32,539.63 L531.2,539.22 L534.09,538.81 L536.97,538.42 L539.85,538.02 L542.74,537.64 L545.62,537.25 L548.5,536.86 L551.39,536.47 L554.27,536.08 L557.16,535.68 L560.04,535.27 L562.92,534.84 L565.81,534.42 L568.69,533.98 L571.57,533.55 L574.46,533.11 L577.34,532.68 L580.23,532.25 L583.11,531.83 L585.99,531.42 L588.88,531.02 L591.76,530.63 L594.64,530.26 L597.53,529.9 L600.41,529.55 L603.29,529.2 L606.18,528.87 L609.06,528.54 L611.95,528.21 L614.83,527.89 L617.71,527.58 L620.6,527.27 L623.48,526.97 L626.36,526.67 L629.25,526.38 L632.13,526.09 L635.01,525.8 L637.9,525.52 L640.78,525.24 L643.67,524.97 L646.55,524.71 L649.43,524.45 L652.32,524.19 L655.2,523.94" fill="none" stroke="#CC79A7" stroke-width="8.9" stroke-dasharray="18.5 18.5" stroke-dashoffset="-1.7"/>
<path d="M206.24,625.09 L209.06,623.36 L211.89,621.68 L214.71,620.06 L217.53,618.48 L220.36,616.94 L223.18,615.43 L226.01,613.93 L228.83,612.45 L231.65,610.96 L234.48,609.46 L237.3,607.97 L240.12,606.47 L242.95,604.99 L245.77,603.51 L248.59,602.03 L251.42,600.56 L254.24,599.1 L257.07,597.64 L259.89,596.19 L262.71,594.74 L265.54,593.3 L268.36,591.87 L271.18,590.44 L274.01,589.02 L276.83,587.61 L279.65,586.21 L282.48,584.81 L285.3,583.41 L288.13,582.03 L290.95,580.65 L293.77,579.28 L296.6,577.91 L299.42,576.55 L302.24,575.2 L305.07,573.86 L307.89,572.52 L310.71,571.18 L313.54,569.84 L316.36,568.5 L319.19,567.16 L322.01,565.82 L324.83,564.49 L327.66,563.16 L330.48,561.84 L333.3,560.53 L336.13,559.22 L338.95,557.93 L341.78,556.64 L344.6,555.37 L347.42,554.1 L350.25,552.85 L353.07,551.61 L355.89,550.39 L358.72,549.18 L361.54,547.99 L364.36,546.82 L367.19,545.66 L370.01,544.53 L372.84,543.41 L375.66,542.32 L378.48,541.23 L381.31,540.15 L384.13,539.08 L386.95,538.01 L389.78,536.95 L392.6,535.89 L395.42,534.84 L398.25,533.8 L401.07,532.76 L403.9,531.73 L406.72,530.7 L409.54,529.68 L412.37,528.67 L415.19,527.66 L418.01,526.66 L420.84,525.67 L423.66,524.68 L426.48,523.7 L429.31,522.73 L432.13,521.76 L434.96,520.8 L437.78,519.84 L440.6,518.89 L443.43,517.95 L446.25,517.02 L449.07,516.09 L451.9,515.17 L454.72,514.25 L457.54,513.35 L460.37,512.45 L463.19,511.55 L466.02,510.67 L468.84,509.79 L471.66,508.92 L474.49,508.05 L477.31,507.2 L480.13,506.34 L482.96,505.5 L485.78,504.67 L488.6,503.84 L491.43,503.02 L494.25,502.2 L497.08,501.4 L499.9,500.6 L502.72,499.81 L505.55,499.03 L508.37,498.25 L511.19,497.48 L514.02,496.72 L516.84,495.97 L519.66,495.23 L522.49,494.49 L525.31,493.76 L528.14,493.05 L530.96,492.34 L533.78,491.64 L536.61,490.94 L539.43,490.26 L542.25,489.58 L545.08,488.91 L547.9,488.25 L550.73,487.59 L553.55,486.95 L556.37,486.31 L559.2,485.68 L562.02,485.05 L564.84,484.44 L567.67,483.83 L570.49,483.22 L573.31,482.63 L576.14,482.04 L578.96,481.46 L581.79,480.89 L584.61,480.32 L587.43,479.76 L590.26,479.2 L593.08,478.65 L595.9,478.1 L598.73,477.56 L601.55,477.02 L604.37,476.49 L607.2,475.96 L610.02,475.44 L612.85,474.93 L615.67,474.42 L618.49,473.92 L621.32,473.42 L624.14,472.93 L626.96,472.44 L629.79,471.96 L632.61,471.49 L635.43,471.02 L638.26,470.56 L641.08,470.11 L643.91,469.66 L646.73,469.22 L649.55,468.79 L652.38,468.37 L655.2,467.95" fill="none" stroke="#3C007A" stroke-width="8.9" stroke-dasharray="18.5 18.5" stroke-dashoffset="0"/>
<path d="M142.54,693.73 L145.77,692.52 L148.99,691.34 L152.22,690.18 L155.44,689.04 L158.67,687.93 L161.89,686.85 L165.11,685.79 L168.34,684.75 L171.56,683.75 L174.79,682.77 L178.01,681.82 L181.23,680.9 L184.46,680.01 L187.68,679.15 L190.91,678.32 L194.13,677.53 L197.36,676.77 L200.58,676.04 L203.8,675.33 L207.03,674.63 L210.25,673.95 L213.48,673.28 L216.7,672.61 L219.93,671.93 L223.15,671.25 L226.37,670.57 L229.6,669.9 L232.82,669.22 L236.05,668.54 L239.27,667.87 L242.5,667.2 L245.72,666.53 L248.94,665.87 L252.17,665.21 L255.39,664.55 L258.62,663.91 L261.84,663.26 L265.07,662.63 L268.29,662 L271.51,661.38 L274.74,660.77 L277.96,660.16 L281.19,659.57 L284.41,658.99 L287.64,658.41 L290.86,657.85 L294.08,657.3 L297.31,656.76 L300.53,656.24 L303.76,655.72 L306.98,655.22 L310.2,654.72 L313.43,654.24 L316.65,653.76 L319.88,653.3 L323.1,652.84 L326.33,652.4 L329.55,651.96 L332.77,651.54 L336,651.12 L339.22,650.71 L342.45,650.3 L345.67,649.89 L348.9,649.5 L352.12,649.11 L355.34,648.74 L358.57,648.37 L361.79,648.03 L365.02,647.69 L368.24,647.37 L371.47,647.08 L374.69,646.78 L377.91,646.49 L381.14,646.2 L384.36,645.91 L387.59,645.63 L390.81,645.34 L394.04,645.06 L397.26,644.79 L400.48,644.51 L403.71,644.24 L406.93,643.97 L410.16,643.71 L413.38,643.44 L416.61,643.18 L419.83,642.93 L423.05,642.67 L426.28,642.42 L429.5,642.18 L432.73,641.93 L435.95,641.69 L439.18,641.46 L442.4,641.22 L445.62,640.99 L448.85,640.77 L452.07,640.54 L455.3,640.33 L458.52,640.11 L461.74,639.9 L464.97,639.69 L468.19,639.49 L471.42,639.29 L474.64,639.09 L477.87,638.9 L481.09,638.71 L484.31,638.53 L487.54,638.35 L490.76,638.18 L493.99,638.01 L497.21,637.84 L500.44,637.68 L503.66,637.52 L506.88,637.37 L510.11,637.22 L513.33,637.08 L516.56,636.94 L519.78,636.8 L523.01,636.67 L526.23,636.53 L529.45,636.4 L532.68,636.26 L535.9,636.13 L539.13,636 L542.35,635.87 L545.58,635.74 L548.8,635.61 L552.02,635.49 L555.25,635.36 L558.47,635.24 L561.7,635.12 L564.92,635 L568.15,634.88 L571.37,634.76 L574.59,634.65 L577.82,634.54 L581.04,634.43 L584.27,634.32 L587.49,634.22 L590.71,634.11 L593.94,634.01 L597.16,633.91 L600.39,633.82 L603.61,633.73 L606.84,633.64 L610.06,633.55 L613.28,633.47 L616.51,633.39 L619.73,633.31 L622.96,633.23 L626.18,633.16 L629.41,633.09 L632.63,633.03 L635.85,632.97 L639.08,632.91 L642.3,632.86 L645.53,632.81 L648.75,632.76 L651.98,632.72 L655.2,632.68" fill="none" stroke="#009E73" stroke-width="8.9" stroke-dasharray="18.5 18.5" stroke-dashoffset="-1.5"/>
<path d="M94.28,719.74 L97.81,715.98 L101.34,712.27 L104.86,708.64 L108.39,705.12 L111.92,701.72 L115.45,698.37 L118.98,695.05 L122.5,691.76 L126.03,688.4 L129.56,685.06 L133.09,681.83 L136.61,678.8 L140.14,675.99 L143.67,673.28 L147.2,670.64 L150.73,668.08 L154.25,665.58 L157.78,663.15 L161.31,660.77 L164.84,658.44 L168.36,656.16 L171.89,653.91 L175.42,651.7 L178.95,649.51 L182.48,647.35 L186,645.2 L189.53,643.06 L193.06,640.92 L196.59,638.78 L200.11,636.63 L203.64,634.47 L207.17,632.3 L210.7,630.09 L214.23,627.85 L217.75,625.57 L221.28,623.29 L224.81,621.04 L228.34,618.86 L231.86,616.78 L235.39,614.84 L238.92,612.94 L242.45,611.07 L245.98,609.22 L249.5,607.4 L253.03,605.59 L256.56,603.81 L260.09,602.05 L263.61,600.31 L267.14,598.59 L270.67,596.9 L274.2,595.23 L277.73,593.58 L281.25,591.95 L284.78,590.35 L288.31,588.76 L291.84,587.2 L295.36,585.66 L298.89,584.15 L302.42,582.66 L305.95,581.18 L309.48,579.72 L313,578.27 L316.53,576.83 L320.06,575.4 L323.59,573.99 L327.12,572.59 L330.64,571.21 L334.17,569.85 L337.7,568.51 L341.23,567.19 L344.75,565.89 L348.28,564.61 L351.81,563.36 L355.34,562.13 L358.87,560.94 L362.39,559.77 L365.92,558.63 L369.45,557.52 L372.98,556.45 L376.5,555.4 L380.03,554.37 L383.56,553.33 L387.09,552.3 L390.62,551.28 L394.14,550.26 L397.67,549.24 L401.2,548.23 L404.73,547.23 L408.25,546.23 L411.78,545.24 L415.31,544.26 L418.84,543.29 L422.37,542.32 L425.89,541.36 L429.42,540.42 L432.95,539.48 L436.48,538.55 L440,537.63 L443.53,536.72 L447.06,535.83 L450.59,534.94 L454.12,534.07 L457.64,533.21 L461.17,532.37 L464.7,531.53 L468.23,530.72 L471.75,529.91 L475.28,529.12 L478.81,528.35 L482.34,527.59 L485.87,526.85 L489.39,526.12 L492.92,525.41 L496.45,524.72 L499.98,524.05 L503.5,523.39 L507.03,522.75 L510.56,522.14 L514.09,521.54 L517.62,520.96 L521.14,520.38 L524.67,519.8 L528.2,519.23 L531.73,518.66 L535.25,518.1 L538.78,517.54 L542.31,516.99 L545.84,516.44 L549.37,515.9 L552.89,515.37 L556.42,514.84 L559.95,514.32 L563.48,513.8 L567.01,513.29 L570.53,512.79 L574.06,512.3 L577.59,511.81 L581.12,511.34 L584.64,510.87 L588.17,510.41 L591.7,509.96 L595.23,509.52 L598.76,509.09 L602.28,508.66 L605.81,508.25 L609.34,507.85 L612.87,507.46 L616.39,507.08 L619.92,506.71 L623.45,506.36 L626.98,506.01 L630.51,505.68 L634.03,505.36 L637.56,505.05 L641.09,504.76 L644.62,504.48 L648.14,504.21 L651.67,503.96 L655.2,503.72 L655.2,622.92 L651.67,622.81 L648.14,622.7 L644.62,622.59 L641.09,622.49 L637.56,622.4 L634.03,622.3 L630.51,622.21 L626.98,622.13 L623.45,622.05 L619.92,621.97 L616.39,621.89 L612.87,621.82 L609.34,621.75 L605.81,621.68 L602.28,621.61 L598.76,621.55 L595.23,621.49 L591.7,621.43 L588.17,621.37 L584.64,621.32 L581.12,621.26 L577.59,621.21 L574.06,621.16 L570.53,621.11 L567.01,621.06 L563.48,621.02 L559.95,620.97 L556.42,620.92 L552.89,620.88 L549.37,620.84 L545.84,620.79 L542.31,620.75 L538.78,620.7 L535.25,620.66 L531.73,620.62 L528.2,620.57 L524.67,620.53 L521.14,620.48 L517.62,620.44 L514.09,620.39 L510.56,620.35 L507.03,620.3 L503.5,620.26 L499.98,620.22 L496.45,620.18 L492.92,620.14 L489.39,620.1 L485.87,620.07 L482.34,620.04 L478.81,620.01 L475.28,619.99 L471.75,619.97 L468.23,619.96 L464.7,619.94 L461.17,619.94 L457.64,619.94 L454.12,619.94 L450.59,619.95 L447.06,619.96 L443.53,619.98 L440,620.01 L436.48,620.04 L432.95,620.08 L429.42,620.13 L425.89,620.18 L422.37,620.24 L418.84,620.31 L415.31,620.39 L411.78,620.48 L408.25,620.57 L404.73,620.68 L401.2,620.79 L397.67,620.91 L394.14,621.04 L390.62,621.19 L387.09,621.34 L383.56,621.5 L380.03,621.68 L376.5,621.86 L372.98,622.06 L369.45,622.3 L365.92,622.57 L362.39,622.88 L358.87,623.22 L355.34,623.6 L351.81,624 L348.28,624.42 L344.75,624.87 L341.23,625.34 L337.7,625.83 L334.17,626.33 L330.64,626.84 L327.12,627.37 L323.59,627.9 L320.06,628.44 L316.53,628.98 L313,629.52 L309.48,630.05 L305.95,630.58 L302.42,631.11 L298.89,631.62 L295.36,632.12 L291.84,632.62 L288.31,633.12 L284.78,633.62 L281.25,634.13 L277.73,634.65 L274.2,635.19 L270.67,635.74 L267.14,636.32 L263.61,636.92 L260.09,637.55 L256.56,638.22 L253.03,638.92 L249.5,639.67 L245.98,640.45 L242.45,641.29 L238.92,642.18 L235.39,643.12 L231.86,644.15 L228.34,645.34 L224.81,646.64 L221.28,648.04 L217.75,649.47 L214.23,650.92 L210.7,652.35 L207.17,653.75 L203.64,655.13 L200.11,656.51 L196.59,657.88 L193.06,659.25 L189.53,660.62 L186,662 L182.48,663.39 L178.95,664.8 L175.42,666.23 L171.89,667.69 L168.36,669.17 L164.84,670.69 L161.31,672.24 L157.78,673.84 L154.25,675.49 L150.73,677.18 L147.2,678.94 L143.67,680.75 L140.14,682.63 L136.61,684.58 L133.09,686.61 L129.56,688.78 L126.03,691.13 L122.5,693.7 L118.98,696.54 L115.45,699.51 L111.92,702.54 L108.39,705.67 L104.86,708.96 L101.34,712.42 L97.81,716.02 L94.28,719.74Z" fill="#D55E00" fill-opacity="0.2"/>
<path d="M94.28,719.74 L97.81,716.3 L101.34,713 L104.86,709.84 L108.39,706.85 L111.92,704.03 L115.45,701.41 L118.98,698.93 L122.5,696.53 L126.03,694.15 L129.56,691.72 L133.09,689.2 L136.61,686.62 L140.14,684.01 L143.67,681.4 L147.2,678.82 L150.73,676.29 L154.25,673.86 L157.78,671.54 L161.31,669.38 L164.84,667.39 L168.36,665.5 L171.89,663.68 L175.42,661.93 L178.95,660.24 L182.48,658.59 L186,656.98 L189.53,655.4 L193.06,653.86 L196.59,652.34 L200.11,650.83 L203.64,649.34 L207.17,647.86 L210.7,646.38 L214.23,644.9 L217.75,643.41 L221.28,641.9 L224.81,640.38 L228.34,638.84 L231.86,637.27 L235.39,635.66 L238.92,634.05 L242.45,632.42 L245.98,630.79 L249.5,629.16 L253.03,627.52 L256.56,625.89 L260.09,624.26 L263.61,622.64 L267.14,621.01 L270.67,619.38 L274.2,617.75 L277.73,616.13 L281.25,614.51 L284.78,612.9 L288.31,611.31 L291.84,609.73 L295.36,608.17 L298.89,606.64 L302.42,605.13 L305.95,603.66 L309.48,602.2 L313,600.77 L316.53,599.35 L320.06,597.97 L323.59,596.6 L327.12,595.25 L330.64,593.92 L334.17,592.6 L337.7,591.3 L341.23,590.02 L344.75,588.76 L348.28,587.51 L351.81,586.27 L355.34,585.05 L358.87,583.84 L362.39,582.65 L365.92,581.47 L369.45,580.3 L372.98,579.15 L376.5,578.01 L380.03,576.89 L383.56,575.79 L387.09,574.69 L390.62,573.61 L394.14,572.54 L397.67,571.48 L401.2,570.42 L404.73,569.37 L408.25,568.32 L411.78,567.27 L415.31,566.23 L418.84,565.18 L422.37,564.13 L425.89,563.07 L429.42,562.01 L432.95,560.94 L436.48,559.86 L440,558.78 L443.53,557.67 L447.06,556.56 L450.59,555.43 L454.12,554.29 L457.64,553.15 L461.17,551.99 L464.7,550.84 L468.23,549.68 L471.75,548.53 L475.28,547.38 L478.81,546.23 L482.34,545.1 L485.87,543.98 L489.39,542.87 L492.92,541.75 L496.45,540.65 L499.98,539.54 L503.5,538.45 L507.03,537.36 L510.56,536.29 L514.09,535.22 L517.62,534.17 L521.14,533.14 L524.67,532.12 L528.2,531.12 L531.73,530.13 L535.25,529.14 L538.78,528.17 L542.31,527.2 L545.84,526.22 L549.37,525.25 L552.89,524.27 L556.42,523.28 L559.95,522.28 L563.48,521.28 L567.01,520.28 L570.53,519.28 L574.06,518.27 L577.59,517.27 L581.12,516.27 L584.64,515.27 L588.17,514.28 L591.7,513.3 L595.23,512.32 L598.76,511.35 L602.28,510.38 L605.81,509.42 L609.34,508.46 L612.87,507.5 L616.39,506.54 L619.92,505.59 L623.45,504.63 L626.98,503.68 L630.51,502.73 L634.03,501.77 L637.56,500.83 L641.09,499.88 L644.62,498.93 L648.14,497.99 L651.67,497.04 L655.2,496.1 L655.2,530.1 L651.67,530.83 L648.14,531.57 L644.62,532.3 L641.09,533.03 L637.56,533.77 L634.03,534.5 L630.51,535.24 L626.98,535.97 L623.45,536.71 L619.92,537.44 L616.39,538.18 L612.87,538.92 L609.34,539.65 L605.81,540.39 L602.28,541.13 L598.76,541.88 L595.23,542.63 L591.7,543.38 L588.17,544.13 L584.64,544.9 L581.12,545.67 L577.59,546.44 L574.06,547.21 L570.53,547.98 L567.01,548.76 L563.48,549.53 L559.95,550.3 L556.42,551.06 L552.89,551.82 L549.37,552.56 L545.84,553.3 L542.31,554.04 L538.78,554.78 L535.25,555.52 L531.73,556.26 L528.2,557.02 L524.67,557.78 L521.14,558.56 L517.62,559.36 L514.09,560.17 L510.56,560.99 L507.03,561.82 L503.5,562.66 L499.98,563.5 L496.45,564.35 L492.92,565.21 L489.39,566.07 L485.87,566.93 L482.34,567.79 L478.81,568.66 L475.28,569.55 L471.75,570.44 L468.23,571.34 L464.7,572.24 L461.17,573.14 L457.64,574.05 L454.12,574.94 L450.59,575.83 L447.06,576.72 L443.53,577.59 L440,578.45 L436.48,579.29 L432.95,580.12 L429.42,580.94 L425.89,581.75 L422.37,582.55 L418.84,583.35 L415.31,584.15 L411.78,584.95 L408.25,585.75 L404.73,586.56 L401.2,587.37 L397.67,588.19 L394.14,589.02 L390.62,589.87 L387.09,590.73 L383.56,591.61 L380.03,592.51 L376.5,593.43 L372.98,594.38 L369.45,595.35 L365.92,596.35 L362.39,597.38 L358.87,598.43 L355.34,599.5 L351.81,600.6 L348.28,601.71 L344.75,602.84 L341.23,603.98 L337.7,605.14 L334.17,606.31 L330.64,607.49 L327.12,608.67 L323.59,609.86 L320.06,611.05 L316.53,612.24 L313,613.43 L309.48,614.61 L305.95,615.78 L302.42,616.95 L298.89,618.14 L295.36,619.34 L291.84,620.55 L288.31,621.77 L284.78,623.01 L281.25,624.26 L277.73,625.53 L274.2,626.81 L270.67,628.1 L267.14,629.42 L263.61,630.74 L260.09,632.08 L256.56,633.42 L253.03,634.76 L249.5,636.1 L245.98,637.44 L242.45,638.77 L238.92,640.1 L235.39,641.43 L231.86,642.74 L228.34,644.02 L224.81,645.28 L221.28,646.52 L217.75,647.75 L214.23,648.97 L210.7,650.19 L207.17,651.43 L203.64,652.67 L200.11,653.93 L196.59,655.22 L193.06,656.54 L189.53,657.9 L186,659.3 L182.48,660.75 L178.95,662.26 L175.42,663.83 L171.89,665.46 L168.36,667.15 L164.84,668.91 L161.31,670.78 L157.78,672.83 L154.25,675.03 L150.73,677.35 L147.2,679.76 L143.67,682.24 L140.14,684.75 L136.61,687.26 L133.09,689.75 L129.56,692.18 L126.03,694.53 L122.5,696.84 L118.98,699.17 L115.45,701.58 L111.92,704.15 L108.39,706.93 L104.86,709.89 L101.34,713.02 L97.81,716.31 L94.28,719.74Z" fill="#0072B2" fill-opacity="0.2"/>
<path d="M94.28,719.74 L97.81,715.93 L101.34,712.25 L104.86,708.71 L108.39,705.31 L111.92,702.07 L115.45,699 L118.98,696.06 L122.5,693.21 L126.03,690.42 L129.56,687.64 L133.09,684.83 L136.61,682.01 L140.14,679.2 L143.67,676.41 L147.2,673.67 L150.73,670.99 L154.25,668.39 L157.78,665.89 L161.31,663.49 L164.84,661.2 L168.36,659.03 L171.89,656.95 L175.42,654.95 L178.95,652.99 L182.48,651.07 L186,649.16 L189.53,647.23 L193.06,645.27 L196.59,643.25 L200.11,641.17 L203.64,639.04 L207.17,636.87 L210.7,634.68 L214.23,632.48 L217.75,630.29 L221.28,628.13 L224.81,626 L228.34,623.92 L231.86,621.91 L235.39,619.97 L238.92,618.08 L242.45,616.2 L245.98,614.35 L249.5,612.52 L253.03,610.71 L256.56,608.92 L260.09,607.15 L263.61,605.39 L267.14,603.65 L270.67,601.94 L274.2,600.23 L277.73,598.54 L281.25,596.87 L284.78,595.21 L288.31,593.57 L291.84,591.93 L295.36,590.31 L298.89,588.7 L302.42,587.11 L305.95,585.52 L309.48,583.93 L313,582.35 L316.53,580.78 L320.06,579.22 L323.59,577.66 L327.12,576.1 L330.64,574.56 L334.17,573.03 L337.7,571.51 L341.23,570 L344.75,568.51 L348.28,567.02 L351.81,565.56 L355.34,564.11 L358.87,562.67 L362.39,561.25 L365.92,559.85 L369.45,558.47 L372.98,557.11 L376.5,555.77 L380.03,554.42 L383.56,553.06 L387.09,551.7 L390.62,550.33 L394.14,548.96 L397.67,547.58 L401.2,546.2 L404.73,544.81 L408.25,543.43 L411.78,542.04 L415.31,540.66 L418.84,539.27 L422.37,537.89 L425.89,536.51 L429.42,535.14 L432.95,533.77 L436.48,532.4 L440,531.05 L443.53,529.7 L447.06,528.35 L450.59,527.02 L454.12,525.7 L457.64,524.39 L461.17,523.09 L464.7,521.8 L468.23,520.53 L471.75,519.27 L475.28,518.03 L478.81,516.81 L482.34,515.6 L485.87,514.41 L489.39,513.24 L492.92,512.1 L496.45,510.98 L499.98,509.9 L503.5,508.86 L507.03,507.85 L510.56,506.88 L514.09,505.96 L517.62,505.08 L521.14,504.22 L524.67,503.39 L528.2,502.58 L531.73,501.79 L535.25,501.02 L538.78,500.26 L542.31,499.51 L545.84,498.77 L549.37,498.03 L552.89,497.29 L556.42,496.54 L559.95,495.78 L563.48,495.01 L567.01,494.24 L570.53,493.47 L574.06,492.7 L577.59,491.94 L581.12,491.19 L584.64,490.46 L588.17,489.74 L591.7,489.06 L595.23,488.4 L598.76,487.77 L602.28,487.16 L605.81,486.56 L609.34,485.98 L612.87,485.42 L616.39,484.88 L619.92,484.35 L623.45,483.84 L626.98,483.34 L630.51,482.85 L634.03,482.38 L637.56,481.93 L641.09,481.5 L644.62,481.08 L648.14,480.68 L651.67,480.3 L655.2,479.94 L655.2,567.94 L651.67,568.19 L648.14,568.44 L644.62,568.69 L641.09,568.93 L637.56,569.17 L634.03,569.41 L630.51,569.65 L626.98,569.88 L623.45,570.11 L619.92,570.34 L616.39,570.57 L612.87,570.8 L609.34,571.03 L605.81,571.25 L602.28,571.49 L598.76,571.72 L595.23,571.96 L591.7,572.21 L588.17,572.48 L584.64,572.76 L581.12,573.05 L577.59,573.35 L574.06,573.65 L570.53,573.94 L567.01,574.23 L563.48,574.51 L559.95,574.77 L556.42,575.02 L552.89,575.25 L549.37,575.46 L545.84,575.67 L542.31,575.87 L538.78,576.08 L535.25,576.28 L531.73,576.5 L528.2,576.72 L524.67,576.97 L521.14,577.23 L517.62,577.52 L514.09,577.83 L510.56,578.13 L507.03,578.43 L503.5,578.72 L499.98,579 L496.45,579.26 L492.92,579.52 L489.39,579.76 L485.87,579.99 L482.34,580.21 L478.81,580.42 L475.28,580.61 L471.75,580.79 L468.23,580.97 L464.7,581.13 L461.17,581.29 L457.64,581.45 L454.12,581.61 L450.59,581.76 L447.06,581.92 L443.53,582.08 L440,582.25 L436.48,582.42 L432.95,582.6 L429.42,582.79 L425.89,583 L422.37,583.22 L418.84,583.45 L415.31,583.71 L411.78,583.98 L408.25,584.27 L404.73,584.59 L401.2,584.93 L397.67,585.3 L394.14,585.7 L390.62,586.13 L387.09,586.58 L383.56,587.08 L380.03,587.61 L376.5,588.17 L372.98,588.78 L369.45,589.42 L365.92,590.1 L362.39,590.82 L358.87,591.57 L355.34,592.35 L351.81,593.17 L348.28,594.01 L344.75,594.88 L341.23,595.77 L337.7,596.69 L334.17,597.63 L330.64,598.59 L327.12,599.57 L323.59,600.57 L320.06,601.58 L316.53,602.6 L313,603.64 L309.48,604.69 L305.95,605.74 L302.42,606.8 L298.89,607.88 L295.36,608.98 L291.84,610.09 L288.31,611.22 L284.78,612.36 L281.25,613.53 L277.73,614.71 L274.2,615.92 L270.67,617.14 L267.14,618.38 L263.61,619.65 L260.09,620.94 L256.56,622.25 L253.03,623.58 L249.5,624.94 L245.98,626.32 L242.45,627.72 L238.92,629.15 L235.39,630.61 L231.86,632.1 L228.34,633.68 L224.81,635.33 L221.28,637.03 L217.75,638.77 L214.23,640.54 L210.7,642.32 L207.17,644.09 L203.64,645.85 L200.11,647.57 L196.59,649.24 L193.06,650.84 L189.53,652.35 L186,653.83 L182.48,655.29 L178.95,656.76 L175.42,658.28 L171.89,659.88 L168.36,661.58 L164.84,663.41 L161.31,665.42 L157.78,667.59 L154.25,669.93 L150.73,672.37 L147.2,674.91 L143.67,677.51 L140.14,680.16 L136.61,682.85 L133.09,685.55 L129.56,688.24 L126.03,690.91 L122.5,693.61 L118.98,696.37 L115.45,699.23 L111.92,702.24 L108.39,705.41 L104.86,708.77 L101.34,712.28 L97.81,715.94 L94.28,719.74Z" fill="#CC79A7" fill-opacity="0.2"/>
<path d="M94.28,719.74 L97.81,715.51 L101.34,711.42 L104.86,707.49 L108.39,703.74 L111.92,700.18 L115.45,696.82 L118.98,693.61 L122.5,690.51 L126.03,687.45 L129.56,684.39 L133.09,681.36 L136.61,678.39 L140.14,675.45 L143.67,672.5 L147.2,669.53 L150.73,666.53 L154.25,663.53 L157.78,660.55 L161.31,657.61 L164.84,654.74 L168.36,651.87 L171.89,648.97 L175.42,646.07 L178.95,643.17 L182.48,640.28 L186,637.41 L189.53,634.59 L193.06,631.81 L196.59,629.1 L200.11,626.46 L203.64,623.91 L207.17,621.45 L210.7,619.08 L214.23,616.77 L217.75,614.51 L221.28,612.28 L224.81,610.07 L228.34,607.86 L231.86,605.65 L235.39,603.4 L238.92,601.15 L242.45,598.9 L245.98,596.65 L249.5,594.4 L253.03,592.17 L256.56,589.94 L260.09,587.72 L263.61,585.52 L267.14,583.33 L270.67,581.16 L274.2,579.01 L277.73,576.88 L281.25,574.78 L284.78,572.71 L288.31,570.66 L291.84,568.65 L295.36,566.68 L298.89,564.73 L302.42,562.83 L305.95,560.97 L309.48,559.12 L313,557.29 L316.53,555.47 L320.06,553.67 L323.59,551.88 L327.12,550.11 L330.64,548.35 L334.17,546.6 L337.7,544.87 L341.23,543.16 L344.75,541.46 L348.28,539.78 L351.81,538.11 L355.34,536.46 L358.87,534.82 L362.39,533.2 L365.92,531.6 L369.45,530.01 L372.98,528.44 L376.5,526.88 L380.03,525.31 L383.56,523.71 L387.09,522.1 L390.62,520.47 L394.14,518.83 L397.67,517.17 L401.2,515.5 L404.73,513.82 L408.25,512.13 L411.78,510.43 L415.31,508.72 L418.84,507.01 L422.37,505.3 L425.89,503.58 L429.42,501.86 L432.95,500.14 L436.48,498.42 L440,496.71 L443.53,495 L447.06,493.29 L450.59,491.59 L454.12,489.9 L457.64,488.22 L461.17,486.55 L464.7,484.9 L468.23,483.25 L471.75,481.63 L475.28,480.02 L478.81,478.42 L482.34,476.85 L485.87,475.3 L489.39,473.77 L492.92,472.26 L496.45,470.78 L499.98,469.32 L503.5,467.89 L507.03,466.49 L510.56,465.13 L514.09,463.79 L517.62,462.48 L521.14,461.19 L524.67,459.91 L528.2,458.65 L531.73,457.4 L535.25,456.17 L538.78,454.95 L542.31,453.75 L545.84,452.57 L549.37,451.4 L552.89,450.24 L556.42,449.1 L559.95,447.97 L563.48,446.86 L567.01,445.76 L570.53,444.67 L574.06,443.6 L577.59,442.54 L581.12,441.5 L584.64,440.47 L588.17,439.45 L591.7,438.45 L595.23,437.45 L598.76,436.47 L602.28,435.5 L605.81,434.53 L609.34,433.59 L612.87,432.65 L616.39,431.72 L619.92,430.81 L623.45,429.91 L626.98,429.03 L630.51,428.15 L634.03,427.3 L637.56,426.45 L641.09,425.62 L644.62,424.81 L648.14,424 L651.67,423.22 L655.2,422.45 L655.2,513.45 L651.67,513.72 L648.14,514.01 L644.62,514.3 L641.09,514.59 L637.56,514.9 L634.03,515.21 L630.51,515.53 L626.98,515.85 L623.45,516.18 L619.92,516.51 L616.39,516.85 L612.87,517.2 L609.34,517.55 L605.81,517.91 L602.28,518.27 L598.76,518.64 L595.23,519.01 L591.7,519.38 L588.17,519.77 L584.64,520.15 L581.12,520.54 L577.59,520.94 L574.06,521.34 L570.53,521.76 L567.01,522.18 L563.48,522.61 L559.95,523.05 L556.42,523.5 L552.89,523.95 L549.37,524.42 L545.84,524.89 L542.31,525.38 L538.78,525.87 L535.25,526.37 L531.73,526.89 L528.2,527.41 L524.67,527.95 L521.14,528.49 L517.62,529.05 L514.09,529.62 L510.56,530.18 L507.03,530.74 L503.5,531.29 L499.98,531.83 L496.45,532.37 L492.92,532.91 L489.39,533.45 L485.87,533.99 L482.34,534.52 L478.81,535.06 L475.28,535.6 L471.75,536.15 L468.23,536.7 L464.7,537.26 L461.17,537.83 L457.64,538.41 L454.12,539 L450.59,539.6 L447.06,540.21 L443.53,540.84 L440,541.48 L436.48,542.14 L432.95,542.82 L429.42,543.51 L425.89,544.23 L422.37,544.97 L418.84,545.73 L415.31,546.52 L411.78,547.33 L408.25,548.17 L404.73,549.03 L401.2,549.93 L397.67,550.85 L394.14,551.81 L390.62,552.79 L387.09,553.82 L383.56,554.87 L380.03,555.97 L376.5,557.1 L372.98,558.27 L369.45,559.49 L365.92,560.76 L362.39,562.07 L358.87,563.41 L355.34,564.8 L351.81,566.22 L348.28,567.66 L344.75,569.13 L341.23,570.62 L337.7,572.13 L334.17,573.65 L330.64,575.19 L327.12,576.73 L323.59,578.27 L320.06,579.82 L316.53,581.36 L313,582.89 L309.48,584.41 L305.95,585.92 L302.42,587.41 L298.89,588.88 L295.36,590.34 L291.84,591.78 L288.31,593.21 L284.78,594.63 L281.25,596.04 L277.73,597.45 L274.2,598.85 L270.67,600.25 L267.14,601.65 L263.61,603.05 L260.09,604.45 L256.56,605.87 L253.03,607.28 L249.5,608.71 L245.98,610.15 L242.45,611.6 L238.92,613.07 L235.39,614.55 L231.86,616.05 L228.34,617.54 L224.81,619.06 L221.28,620.61 L217.75,622.22 L214.23,623.9 L210.7,625.68 L207.17,627.57 L203.64,629.59 L200.11,631.7 L196.59,633.9 L193.06,636.19 L189.53,638.55 L186,640.98 L182.48,643.46 L178.95,646 L175.42,648.58 L171.89,651.2 L168.36,653.84 L164.84,656.5 L161.31,659.21 L157.78,662.01 L154.25,664.85 L150.73,667.72 L147.2,670.6 L143.67,673.44 L140.14,676.27 L136.61,679.1 L133.09,681.97 L129.56,684.9 L126.03,687.87 L122.5,690.84 L118.98,693.87 L115.45,697.01 L111.92,700.32 L108.39,703.83 L104.86,707.55 L101.34,711.44 L97.81,715.51 L94.28,719.74Z" fill="#3C007A" fill-opacity="0.2"/>
<path d="M94.28,719.74 L97.81,717.29 L101.34,714.79 L104.86,712.16 L108.39,709.51 L111.92,707.23 L115.45,705.23 L118.98,703.39 L122.5,701.64 L126.03,699.87 L129.56,697.94 L133.09,695.91 L136.61,693.87 L140.14,691.94 L143.67,690.19 L147.2,688.53 L150.73,686.89 L154.25,685.29 L157.78,683.73 L161.31,682.2 L164.84,680.7 L168.36,679.24 L171.89,677.82 L175.42,676.43 L178.95,675.08 L182.48,673.77 L186,672.5 L189.53,671.27 L193.06,670.09 L196.59,668.95 L200.11,667.85 L203.64,666.77 L207.17,665.73 L210.7,664.7 L214.23,663.68 L217.75,662.66 L221.28,661.65 L224.81,660.63 L228.34,659.61 L231.86,658.6 L235.39,657.6 L238.92,656.6 L242.45,655.62 L245.98,654.66 L249.5,653.7 L253.03,652.75 L256.56,651.82 L260.09,650.9 L263.61,649.98 L267.14,649.08 L270.67,648.18 L274.2,647.29 L277.73,646.41 L281.25,645.54 L284.78,644.67 L288.31,643.81 L291.84,642.95 L295.36,642.1 L298.89,641.25 L302.42,640.4 L305.95,639.55 L309.48,638.69 L313,637.82 L316.53,636.94 L320.06,636.05 L323.59,635.16 L327.12,634.28 L330.64,633.39 L334.17,632.51 L337.7,631.62 L341.23,630.74 L344.75,629.87 L348.28,629.01 L351.81,628.17 L355.34,627.34 L358.87,626.54 L362.39,625.78 L365.92,625.04 L369.45,624.34 L372.98,623.68 L376.5,623.05 L380.03,622.42 L383.56,621.8 L387.09,621.18 L390.62,620.57 L394.14,619.96 L397.67,619.37 L401.2,618.78 L404.73,618.19 L408.25,617.61 L411.78,617.04 L415.31,616.48 L418.84,615.92 L422.37,615.37 L425.89,614.82 L429.42,614.29 L432.95,613.76 L436.48,613.23 L440,612.72 L443.53,612.21 L447.06,611.71 L450.59,611.21 L454.12,610.72 L457.64,610.24 L461.17,609.77 L464.7,609.3 L468.23,608.84 L471.75,608.39 L475.28,607.95 L478.81,607.52 L482.34,607.09 L485.87,606.67 L489.39,606.26 L492.92,605.85 L496.45,605.45 L499.98,605.07 L503.5,604.69 L507.03,604.31 L510.56,603.95 L514.09,603.59 L517.62,603.24 L521.14,602.9 L524.67,602.55 L528.2,602.21 L531.73,601.87 L535.25,601.53 L538.78,601.2 L542.31,600.87 L545.84,600.54 L549.37,600.21 L552.89,599.89 L556.42,599.57 L559.95,599.26 L563.48,598.95 L567.01,598.64 L570.53,598.34 L574.06,598.04 L577.59,597.75 L581.12,597.46 L584.64,597.18 L588.17,596.9 L591.7,596.62 L595.23,596.35 L598.76,596.09 L602.28,595.83 L605.81,595.58 L609.34,595.33 L612.87,595.08 L616.39,594.85 L619.92,594.62 L623.45,594.39 L626.98,594.18 L630.51,593.97 L634.03,593.76 L637.56,593.56 L641.09,593.37 L644.62,593.19 L648.14,593.01 L651.67,592.84 L655.2,592.68 L655.2,672.68 L651.67,672.6 L648.14,672.53 L644.62,672.45 L641.09,672.38 L637.56,672.31 L634.03,672.25 L630.51,672.18 L626.98,672.11 L623.45,672.05 L619.92,671.99 L616.39,671.93 L612.87,671.87 L609.34,671.81 L605.81,671.76 L602.28,671.7 L598.76,671.65 L595.23,671.59 L591.7,671.54 L588.17,671.49 L584.64,671.44 L581.12,671.39 L577.59,671.34 L574.06,671.29 L570.53,671.24 L567.01,671.2 L563.48,671.15 L559.95,671.1 L556.42,671.06 L552.89,671.01 L549.37,670.96 L545.84,670.92 L542.31,670.87 L538.78,670.83 L535.25,670.78 L531.73,670.74 L528.2,670.69 L524.67,670.64 L521.14,670.6 L517.62,670.55 L514.09,670.5 L510.56,670.46 L507.03,670.41 L503.5,670.37 L499.98,670.34 L496.45,670.3 L492.92,670.27 L489.39,670.25 L485.87,670.22 L482.34,670.2 L478.81,670.18 L475.28,670.16 L471.75,670.14 L468.23,670.13 L464.7,670.11 L461.17,670.1 L457.64,670.1 L454.12,670.09 L450.59,670.08 L447.06,670.08 L443.53,670.08 L440,670.08 L436.48,670.08 L432.95,670.08 L429.42,670.08 L425.89,670.08 L422.37,670.09 L418.84,670.09 L415.31,670.1 L411.78,670.11 L408.25,670.11 L404.73,670.12 L401.2,670.13 L397.67,670.14 L394.14,670.14 L390.62,670.15 L387.09,670.16 L383.56,670.17 L380.03,670.18 L376.5,670.18 L372.98,670.19 L369.45,670.18 L365.92,670.16 L362.39,670.15 L358.87,670.14 L355.34,670.13 L351.81,670.13 L348.28,670.13 L344.75,670.14 L341.23,670.16 L337.7,670.18 L334.17,670.21 L330.64,670.25 L327.12,670.31 L323.59,670.39 L320.06,670.49 L316.53,670.62 L313,670.78 L309.48,670.98 L305.95,671.2 L302.42,671.47 L298.89,671.76 L295.36,672.07 L291.84,672.42 L288.31,672.78 L284.78,673.17 L281.25,673.58 L277.73,674 L274.2,674.44 L270.67,674.9 L267.14,675.37 L263.61,675.84 L260.09,676.33 L256.56,676.82 L253.03,677.31 L249.5,677.81 L245.98,678.3 L242.45,678.79 L238.92,679.28 L235.39,679.76 L231.86,680.24 L228.34,680.71 L224.81,681.18 L221.28,681.65 L217.75,682.11 L214.23,682.57 L210.7,683.02 L207.17,683.48 L203.64,683.95 L200.11,684.43 L196.59,684.94 L193.06,685.49 L189.53,686.06 L186,686.68 L182.48,687.33 L178.95,688.02 L175.42,688.73 L171.89,689.48 L168.36,690.25 L164.84,691.05 L161.31,691.88 L157.78,692.74 L154.25,693.62 L150.73,694.53 L147.2,695.46 L143.67,696.42 L140.14,697.4 L136.61,698.42 L133.09,699.5 L129.56,700.64 L126.03,701.85 L122.5,703.18 L118.98,704.61 L115.45,706.16 L111.92,707.9 L108.39,709.96 L104.86,712.42 L101.34,714.91 L97.81,717.32 L94.28,719.74Z" fill="#009E73" fill-opacity="0.2"/>
<g stroke="#333333" stroke-width="2.6"><line x1="94" y1="734.4" x2="94" y2="738.1"/><line x1="234.3" y1="734.4" x2="234.3" y2="738.1"/><line x1="374.6" y1="734.4" x2="374.6" y2="738.1"/><line x1="514.9" y1="734.4" x2="514.9" y2="738.1"/><line x1="655.2" y1="734.4" x2="655.2" y2="738.1"/><line x1="62.8" y1="720.1" x2="66.5" y2="720.1"/><line x1="62.8" y1="647.85" x2="66.5" y2="647.85"/><line x1="62.8" y1="575.6" x2="66.5" y2="575.6"/><line x1="62.8" y1="503.35" x2="66.5" y2="503.35"/><line x1="62.8" y1="431.1" x2="66.5" y2="431.1"/></g>
<g font-family="Liberation Sans, sans-serif" font-size="18.5" fill="#1A1A1A"><text x="94" y="755.2" text-anchor="middle">0</text><text x="234.3" y="755.2" text-anchor="middle">500</text><text x="374.6" y="755.2" text-anchor="middle">1000</text><text x="514.9" y="755.2" text-anchor="middle">1500</text><text x="655.2" y="755.2" text-anchor="middle">2000</text><text x="60.2" y="726.11" text-anchor="end">0</text><text x="60.2" y="653.86" text-anchor="end">200</text><text x="60.2" y="581.61" text-anchor="end">400</text><text x="60.2" y="509.36" text-anchor="end">600</text><text x="60.2" y="437.11" text-anchor="end">800</text></g>
<rect x="67.5" y="410.1" width="548.5" height="35.2" fill="#FFFFFF"/>
<rect x="87.9" y="417" width="44.5" height="22.7" fill="#D55E00"/>
<rect x="90.8" y="419.9" width="38.7" height="16.9" fill="#EBEBEB"/>
<rect x="90.8" y="419.9" width="38.7" height="16.9" fill="#D55E00" fill-opacity="0.2"/>
<line x1="93.1" y1="428.35" x2="127.2" y2="428.35" stroke="#D55E00" stroke-width="8.4"/>
<circle cx="110.15" cy="428.35" r="6.9" fill="#D55E00"/>
<text x="143.6" y="434.65" font-family="Liberation Sans, sans-serif" font-size="17.5" fill="#000" textLength="21.2" lengthAdjust="spacingAndGlyphs">Air</text>
<rect x="175.3" y="417" width="45.1" height="22.7" fill="#0072B2"/>
<rect x="178.2" y="419.9" width="39.3" height="16.9" fill="#EBEBEB"/>
<rect x="178.2" y="419.9" width="39.3" height="16.9" fill="#0072B2" fill-opacity="0.2"/>
<line x1="180.5" y1="428.35" x2="215.2" y2="428.35" stroke="#0072B2" stroke-width="8.4"/>
<path d="M197.85,417.62 L207.14,433.72 L188.56,433.72Z" fill="#0072B2"/>
<text x="230.2" y="434.65" font-family="Liberation Sans, sans-serif" font-size="17.5" fill="#000" textLength="64" lengthAdjust="spacingAndGlyphs">Organic</text>
<rect x="305" y="417" width="44" height="22.7" fill="#CC79A7"/>
<rect x="307.9" y="419.9" width="38.2" height="16.9" fill="#EBEBEB"/>
<rect x="307.9" y="419.9" width="38.2" height="16.9" fill="#CC79A7" fill-opacity="0.2"/>
<line x1="310.2" y1="428.35" x2="343.8" y2="428.35" stroke="#CC79A7" stroke-width="8.4"/>
<rect x="320.38" y="421.73" width="13.25" height="13.25" fill="#CC79A7"/>
<text x="359.2" y="434.65" font-family="Liberation Sans, sans-serif" font-size="17.5" fill="#000" textLength="41.3" lengthAdjust="spacingAndGlyphs">Rock</text>
<rect x="411.9" y="417" width="43.7" height="22.7" fill="#3C007A"/>
<rect x="414.8" y="419.9" width="37.9" height="16.9" fill="#EBEBEB"/>
<rect x="414.8" y="419.9" width="37.9" height="16.9" fill="#3C007A" fill-opacity="0.2"/>
<line x1="417.1" y1="428.35" x2="450.4" y2="428.35" stroke="#3C007A" stroke-width="8.4"/>
<path d="M424.92,428.35 H442.58 M433.75,419.52 V437.18" stroke="#3C007A" stroke-width="2.0" fill="none"/>
<text x="466.2" y="434.65" font-family="Liberation Sans, sans-serif" font-size="17.5" fill="#000" textLength="30.7" lengthAdjust="spacingAndGlyphs">Soil</text>
<rect x="506.9" y="417" width="44.1" height="22.7" fill="#009E73"/>
<rect x="509.8" y="419.9" width="38.3" height="16.9" fill="#EBEBEB"/>
<rect x="509.8" y="419.9" width="38.3" height="16.9" fill="#009E73" fill-opacity="0.2"/>
<line x1="512.1" y1="428.35" x2="545.8" y2="428.35" stroke="#009E73" stroke-width="8.4"/>
<path d="M521.36,420.76 h15.18 v15.18 h-15.18Z M521.36,420.76 L536.54,435.94 M536.54,420.76 L521.36,435.94" stroke="#009E73" stroke-width="2.6" fill="none"/>
<text x="562.6" y="434.65" font-family="Liberation Sans, sans-serif" font-size="17.5" fill="#000" textLength="47.8" lengthAdjust="spacingAndGlyphs">Water</text>
<rect x="63.7" y="822.8" width="616.3" height="327.1" fill="#EBEBEB"/>
<g stroke="#FFFFFF"><line x1="161.48" y1="822.8" x2="161.48" y2="1149.9" stroke-width="1.3"/><line x1="301.62" y1="822.8" x2="301.62" y2="1149.9" stroke-width="1.3"/><line x1="441.77" y1="822.8" x2="441.77" y2="1149.9" stroke-width="1.3"/><line x1="581.92" y1="822.8" x2="581.92" y2="1149.9" stroke-width="1.3"/><line x1="63.7" y1="1099.49" x2="680" y2="1099.49" stroke-width="1.3"/><line x1="63.7" y1="1026.46" x2="680" y2="1026.46" stroke-width="1.3"/><line x1="63.7" y1="953.43" x2="680" y2="953.43" stroke-width="1.3"/><line x1="63.7" y1="880.41" x2="680" y2="880.41" stroke-width="1.3"/><line x1="91.4" y1="822.8" x2="91.4" y2="1149.9" stroke-width="2.4"/><line x1="231.55" y1="822.8" x2="231.55" y2="1149.9" stroke-width="2.4"/><line x1="371.7" y1="822.8" x2="371.7" y2="1149.9" stroke-width="2.4"/><line x1="511.85" y1="822.8" x2="511.85" y2="1149.9" stroke-width="2.4"/><line x1="652" y1="822.8" x2="652" y2="1149.9" stroke-width="2.4"/><line x1="63.7" y1="1136" x2="680" y2="1136" stroke-width="2.4"/><line x1="63.7" y1="1062.97" x2="680" y2="1062.97" stroke-width="2.4"/><line x1="63.7" y1="989.95" x2="680" y2="989.95" stroke-width="2.4"/><line x1="63.7" y1="916.92" x2="680" y2="916.92" stroke-width="2.4"/><line x1="63.7" y1="843.9" x2="680" y2="843.9" stroke-width="2.4"/></g>
<circle cx="171.85" cy="1067.54" r="6.9" fill="#D55E00"/>
<path d="M191.19,1042.75 L200.48,1058.85 L181.89,1058.85Z" fill="#0072B2"/>
<rect x="181.76" y="1052.7" width="13.25" height="13.25" fill="#CC79A7"/>
<path d="M91.68,1135.63 L92.7,1134.25 L93.71,1132.87 L94.72,1131.52 L95.74,1130.18 L96.75,1128.87 L97.77,1127.57 L98.78,1126.29 L99.8,1125.03 L100.81,1123.79 L101.83,1122.57 L102.84,1121.38 L103.86,1120.21 L104.87,1119.06 L105.89,1117.94 L106.9,1116.84 L107.92,1115.77 L108.93,1114.72 L109.95,1113.7 L110.96,1112.7 L111.98,1111.74 L112.99,1110.8 L114,1109.89 L115.02,1109.01 L116.03,1108.16 L117.05,1107.33 L118.06,1106.53 L119.08,1105.74 L120.09,1104.98 L121.11,1104.22 L122.12,1103.49 L123.14,1102.76 L124.15,1102.04 L125.17,1101.33 L126.18,1100.63 L127.2,1099.92 L128.21,1099.22 L129.23,1098.52 L130.24,1097.81 L131.26,1097.09 L132.27,1096.37 L133.29,1095.63 L134.3,1094.89 L135.31,1094.14 L136.33,1093.39 L137.34,1092.64 L138.36,1091.89 L139.37,1091.15 L140.39,1090.4 L141.4,1089.66 L142.42,1088.91 L143.43,1088.17 L144.45,1087.43 L145.46,1086.68 L146.48,1085.94 L147.49,1085.2 L148.51,1084.46 L149.52,1083.72 L150.54,1082.98 L151.55,1082.24 L152.57,1081.5 L153.58,1080.76 L154.6,1080.02 L155.61,1079.28 L156.62,1078.55 L157.64,1077.81 L158.65,1077.07 L159.67,1076.33 L160.68,1075.6 L161.7,1074.86 L162.71,1074.12 L163.73,1073.38 L164.74,1072.64 L165.76,1071.91 L166.77,1071.17 L167.79,1070.43 L168.8,1069.7 L169.82,1068.98 L170.83,1068.25 L171.85,1067.54" fill="none" stroke="#D55E00" stroke-width="8.9"/>
<path d="M91.68,1135.63 L92.94,1133.86 L94.2,1132.11 L95.46,1130.39 L96.72,1128.7 L97.98,1127.04 L99.24,1125.42 L100.5,1123.82 L101.76,1122.26 L103.02,1120.74 L104.28,1119.25 L105.54,1117.8 L106.8,1116.39 L108.05,1115.02 L109.31,1113.69 L110.57,1112.41 L111.83,1111.17 L113.09,1109.97 L114.35,1108.82 L115.61,1107.72 L116.87,1106.65 L118.13,1105.62 L119.39,1104.61 L120.65,1103.64 L121.91,1102.69 L123.17,1101.76 L124.43,1100.84 L125.69,1099.94 L126.95,1099.04 L128.21,1098.15 L129.47,1097.27 L130.73,1096.37 L131.99,1095.47 L133.25,1094.56 L134.51,1093.64 L135.77,1092.72 L137.03,1091.81 L138.28,1090.91 L139.54,1090.01 L140.8,1089.11 L142.06,1088.22 L143.32,1087.33 L144.58,1086.45 L145.84,1085.57 L147.1,1084.69 L148.36,1083.81 L149.62,1082.94 L150.88,1082.06 L152.14,1081.19 L153.4,1080.31 L154.66,1079.44 L155.92,1078.56 L157.18,1077.68 L158.44,1076.8 L159.7,1075.91 L160.96,1075.02 L162.22,1074.13 L163.48,1073.23 L164.74,1072.33 L166,1071.43 L167.25,1070.52 L168.51,1069.61 L169.77,1068.69 L171.03,1067.78 L172.29,1066.86 L173.55,1065.95 L174.81,1065.03 L176.07,1064.12 L177.33,1063.21 L178.59,1062.3 L179.85,1061.39 L181.11,1060.49 L182.37,1059.59 L183.63,1058.7 L184.89,1057.81 L186.15,1056.93 L187.41,1056.06 L188.67,1055.19 L189.93,1054.33 L191.19,1053.48" fill="none" stroke="#0072B2" stroke-width="8.9"/>
<path d="M91.68,1135.63 L92.9,1133.96 L94.13,1132.31 L95.35,1130.69 L96.58,1129.09 L97.8,1127.53 L99.02,1125.99 L100.25,1124.48 L101.47,1123 L102.7,1121.55 L103.92,1120.14 L105.15,1118.76 L106.37,1117.41 L107.59,1116.1 L108.82,1114.83 L110.04,1113.6 L111.27,1112.41 L112.49,1111.26 L113.71,1110.15 L114.94,1109.08 L116.16,1108.05 L117.39,1107.06 L118.61,1106.09 L119.83,1105.16 L121.06,1104.24 L122.28,1103.35 L123.51,1102.47 L124.73,1101.61 L125.95,1100.75 L127.18,1099.91 L128.4,1099.06 L129.63,1098.21 L130.85,1097.36 L132.08,1096.49 L133.3,1095.62 L134.52,1094.73 L135.75,1093.83 L136.97,1092.94 L138.2,1092.04 L139.42,1091.14 L140.64,1090.24 L141.87,1089.35 L143.09,1088.45 L144.32,1087.56 L145.54,1086.67 L146.76,1085.78 L147.99,1084.9 L149.21,1084.02 L150.44,1083.14 L151.66,1082.27 L152.89,1081.41 L154.11,1080.55 L155.33,1079.7 L156.56,1078.86 L157.78,1078.03 L159.01,1077.2 L160.23,1076.39 L161.45,1075.58 L162.68,1074.79 L163.9,1074 L165.13,1073.23 L166.35,1072.46 L167.57,1071.69 L168.8,1070.94 L170.02,1070.19 L171.25,1069.45 L172.47,1068.71 L173.69,1067.97 L174.92,1067.24 L176.14,1066.52 L177.37,1065.79 L178.59,1065.07 L179.82,1064.35 L181.04,1063.63 L182.26,1062.92 L183.49,1062.2 L184.71,1061.48 L185.94,1060.76 L187.16,1060.04 L188.38,1059.32" fill="none" stroke="#CC79A7" stroke-width="8.9"/>
<path d="M171.85,1067.54 L174.87,1065.43 L177.89,1063.37 L180.91,1061.36 L183.93,1059.38 L186.95,1057.42 L189.97,1055.48 L192.98,1053.55 L196,1051.65 L199.02,1049.76 L202.04,1047.91 L205.06,1046.07 L208.08,1044.26 L211.1,1042.48 L214.12,1040.72 L217.14,1038.97 L220.16,1037.24 L223.18,1035.53 L226.2,1033.84 L229.22,1032.17 L232.24,1030.53 L235.26,1028.93 L238.28,1027.36 L241.3,1025.83 L244.32,1024.34 L247.34,1022.89 L250.36,1021.48 L253.38,1020.1 L256.4,1018.74 L259.42,1017.42 L262.44,1016.11 L265.46,1014.83 L268.48,1013.57 L271.5,1012.32 L274.52,1011.08 L277.54,1009.86 L280.56,1008.64 L283.58,1007.46 L286.6,1006.29 L289.62,1005.15 L292.64,1004.01 L295.66,1002.89 L298.68,1001.78 L301.7,1000.67 L304.72,999.56 L307.74,998.44 L310.76,997.32 L313.78,996.19 L316.8,995.05 L319.82,993.88 L322.84,992.71 L325.86,991.53 L328.88,990.35 L331.9,989.19 L334.92,988.03 L337.94,986.9 L340.96,985.8 L343.98,984.73 L347,983.7 L350.02,982.72 L353.04,981.76 L356.06,980.82 L359.08,979.91 L362.1,979.02 L365.12,978.14 L368.14,977.28 L371.16,976.43 L374.18,975.6 L377.19,974.77 L380.21,973.95 L383.23,973.13 L386.25,972.32 L389.27,971.52 L392.29,970.72 L395.31,969.93 L398.33,969.15 L401.35,968.38 L404.37,967.62 L407.39,966.88 L410.41,966.15 L413.43,965.43 L416.45,964.73 L419.47,964.05 L422.49,963.39 L425.51,962.74 L428.53,962.11 L431.55,961.49 L434.57,960.88 L437.59,960.28 L440.61,959.69 L443.63,959.09 L446.65,958.5 L449.67,957.9 L452.69,957.3 L455.71,956.69 L458.73,956.08 L461.75,955.46 L464.77,954.83 L467.79,954.21 L470.81,953.58 L473.83,952.96 L476.85,952.35 L479.87,951.74 L482.89,951.15 L485.91,950.57 L488.93,950 L491.95,949.45 L494.97,948.91 L497.99,948.37 L501.01,947.85 L504.03,947.33 L507.05,946.82 L510.07,946.31 L513.09,945.82 L516.11,945.33 L519.13,944.86 L522.15,944.39 L525.17,943.93 L528.19,943.48 L531.21,943.05 L534.23,942.62 L537.25,942.21 L540.27,941.8 L543.29,941.4 L546.31,941.01 L549.33,940.62 L552.35,940.24 L555.37,939.86 L558.39,939.48 L561.4,939.1 L564.42,938.72 L567.44,938.34 L570.46,937.96 L573.48,937.58 L576.5,937.21 L579.52,936.84 L582.54,936.46 L585.56,936.1 L588.58,935.73 L591.6,935.37 L594.62,935.02 L597.64,934.67 L600.66,934.32 L603.68,933.98 L606.7,933.65 L609.72,933.31 L612.74,932.98 L615.76,932.66 L618.78,932.33 L621.8,932.01 L624.82,931.69 L627.84,931.37 L630.86,931.06 L633.88,930.75 L636.9,930.44 L639.92,930.14 L642.94,929.84 L645.96,929.55 L648.98,929.26 L652,928.97" fill="none" stroke="#D55E00" stroke-width="8.9" stroke-dasharray="18.5 18.5" stroke-dashoffset="-1.7"/>
<path d="M191.19,1053.48 L194.08,1051.53 L196.98,1049.59 L199.88,1047.65 L202.78,1045.72 L205.68,1043.81 L208.58,1041.92 L211.47,1040.05 L214.37,1038.21 L217.27,1036.4 L220.17,1034.63 L223.07,1032.9 L225.97,1031.21 L228.86,1029.58 L231.76,1028 L234.66,1026.45 L237.56,1024.93 L240.46,1023.43 L243.35,1021.96 L246.25,1020.51 L249.15,1019.08 L252.05,1017.68 L254.95,1016.29 L257.85,1014.92 L260.74,1013.57 L263.64,1012.24 L266.54,1010.91 L269.44,1009.61 L272.34,1008.31 L275.23,1007.02 L278.13,1005.75 L281.03,1004.48 L283.93,1003.21 L286.83,1001.95 L289.73,1000.7 L292.62,999.45 L295.52,998.2 L298.42,996.95 L301.32,995.7 L304.22,994.47 L307.11,993.25 L310.01,992.04 L312.91,990.85 L315.81,989.67 L318.71,988.51 L321.61,987.37 L324.5,986.25 L327.4,985.15 L330.3,984.07 L333.2,983.03 L336.1,982 L338.99,981 L341.89,980.01 L344.79,979.04 L347.69,978.09 L350.59,977.14 L353.49,976.2 L356.38,975.27 L359.28,974.34 L362.18,973.41 L365.08,972.48 L367.98,971.54 L370.87,970.61 L373.77,969.69 L376.67,968.77 L379.57,967.87 L382.47,966.96 L385.37,966.05 L388.26,965.15 L391.16,964.25 L394.06,963.34 L396.96,962.43 L399.86,961.52 L402.76,960.59 L405.65,959.65 L408.55,958.71 L411.45,957.75 L414.35,956.8 L417.25,955.85 L420.14,954.9 L423.04,953.96 L425.94,953.03 L428.84,952.12 L431.74,951.23 L434.64,950.37 L437.53,949.53 L440.43,948.72 L443.33,947.92 L446.23,947.15 L449.13,946.38 L452.02,945.63 L454.92,944.89 L457.82,944.16 L460.72,943.44 L463.62,942.72 L466.52,942.01 L469.41,941.29 L472.31,940.58 L475.21,939.87 L478.11,939.16 L481.01,938.46 L483.9,937.76 L486.8,937.07 L489.7,936.38 L492.6,935.7 L495.5,935.02 L498.4,934.35 L501.29,933.67 L504.19,933 L507.09,932.33 L509.99,931.66 L512.89,930.99 L515.78,930.3 L518.68,929.62 L521.58,928.94 L524.48,928.26 L527.38,927.59 L530.28,926.93 L533.17,926.28 L536.07,925.65 L538.97,925.04 L541.87,924.44 L544.77,923.87 L547.66,923.33 L550.56,922.79 L553.46,922.28 L556.36,921.77 L559.26,921.28 L562.16,920.79 L565.05,920.31 L567.95,919.84 L570.85,919.37 L573.75,918.9 L576.65,918.43 L579.55,917.96 L582.44,917.48 L585.34,917 L588.24,916.53 L591.14,916.05 L594.04,915.57 L596.93,915.1 L599.83,914.64 L602.73,914.17 L605.63,913.72 L608.53,913.27 L611.43,912.83 L614.32,912.4 L617.22,911.98 L620.12,911.56 L623.02,911.16 L625.92,910.76 L628.81,910.36 L631.71,909.97 L634.61,909.59 L637.51,909.21 L640.41,908.84 L643.31,908.48 L646.2,908.12 L649.1,907.77 L652,907.43" fill="none" stroke="#0072B2" stroke-width="8.9" stroke-dasharray="18.5 18.5" stroke-dashoffset="0"/>
<path d="M188.38,1059.32 L191.3,1057.6 L194.22,1055.89 L197.13,1054.18 L200.05,1052.48 L202.96,1050.78 L205.88,1049.09 L208.79,1047.41 L211.71,1045.74 L214.63,1044.07 L217.54,1042.4 L220.46,1040.75 L223.37,1039.11 L226.29,1037.47 L229.21,1035.84 L232.12,1034.22 L235.04,1032.6 L237.95,1030.99 L240.87,1029.39 L243.78,1027.79 L246.7,1026.21 L249.62,1024.64 L252.53,1023.08 L255.45,1021.53 L258.36,1020.01 L261.28,1018.5 L264.2,1017 L267.11,1015.53 L270.03,1014.07 L272.94,1012.63 L275.86,1011.19 L278.77,1009.77 L281.69,1008.35 L284.61,1006.94 L287.52,1005.52 L290.44,1004.11 L293.35,1002.7 L296.27,1001.28 L299.19,999.85 L302.1,998.42 L305.02,996.98 L307.93,995.55 L310.85,994.12 L313.76,992.71 L316.68,991.31 L319.6,989.93 L322.51,988.57 L325.43,987.25 L328.34,985.95 L331.26,984.69 L334.18,983.45 L337.09,982.24 L340.01,981.05 L342.92,979.87 L345.84,978.7 L348.75,977.54 L351.67,976.38 L354.59,975.22 L357.5,974.06 L360.42,972.89 L363.33,971.7 L366.25,970.51 L369.16,969.31 L372.08,968.11 L375,966.91 L377.91,965.71 L380.83,964.52 L383.74,963.33 L386.66,962.16 L389.58,961 L392.49,959.86 L395.41,958.74 L398.32,957.64 L401.24,956.54 L404.15,955.45 L407.07,954.38 L409.99,953.31 L412.9,952.25 L415.82,951.21 L418.73,950.17 L421.65,949.14 L424.57,948.13 L427.48,947.12 L430.4,946.12 L433.31,945.14 L436.23,944.17 L439.14,943.21 L442.06,942.27 L444.98,941.34 L447.89,940.41 L450.81,939.49 L453.72,938.57 L456.64,937.66 L459.56,936.74 L462.47,935.81 L465.39,934.88 L468.3,933.94 L471.22,933 L474.13,932.05 L477.05,931.1 L479.97,930.15 L482.88,929.2 L485.8,928.26 L488.71,927.32 L491.63,926.39 L494.55,925.47 L497.46,924.56 L500.38,923.66 L503.29,922.77 L506.21,921.89 L509.12,921.02 L512.04,920.15 L514.96,919.28 L517.87,918.43 L520.79,917.58 L523.7,916.74 L526.62,915.91 L529.54,915.09 L532.45,914.28 L535.37,913.48 L538.28,912.69 L541.2,911.91 L544.11,911.15 L547.03,910.4 L549.95,909.66 L552.86,908.92 L555.78,908.19 L558.69,907.47 L561.61,906.74 L564.53,906.02 L567.44,905.29 L570.36,904.56 L573.27,903.82 L576.19,903.08 L579.1,902.32 L582.02,901.57 L584.94,900.81 L587.85,900.05 L590.77,899.29 L593.68,898.54 L596.6,897.8 L599.52,897.06 L602.43,896.35 L605.35,895.65 L608.26,894.96 L611.18,894.3 L614.09,893.64 L617.01,892.99 L619.93,892.35 L622.84,891.72 L625.76,891.09 L628.67,890.48 L631.59,889.87 L634.51,889.27 L637.42,888.68 L640.34,888.1 L643.25,887.53 L646.17,886.97 L649.08,886.42 L652,885.89" fill="none" stroke="#CC79A7" stroke-width="8.9" stroke-dasharray="18.5 18.5" stroke-dashoffset="0"/>
<path d="M91.68,1135.63 L95.2,1130.88 L98.73,1126.34 L102.25,1122.03 L105.78,1117.98 L109.3,1114.22 L112.82,1110.77 L116.35,1107.66 L119.87,1104.83 L123.4,1102.19 L126.92,1099.65 L130.44,1097.11 L133.97,1094.48 L137.49,1091.78 L141.02,1089.07 L144.54,1086.28 L148.06,1083.42 L151.59,1080.51 L155.11,1077.57 L158.64,1074.59 L162.16,1071.61 L165.68,1068.63 L169.21,1065.68 L172.73,1062.83 L176.26,1060.03 L179.78,1057.3 L183.3,1054.62 L186.83,1051.96 L190.35,1049.32 L193.88,1046.7 L197.4,1044.12 L200.93,1041.56 L204.45,1039.04 L207.97,1036.56 L211.5,1034.12 L215.02,1031.72 L218.55,1029.35 L222.07,1027 L225.59,1024.7 L229.12,1022.44 L232.64,1020.23 L236.17,1018.07 L239.69,1015.97 L243.21,1013.93 L246.74,1011.96 L250.26,1010.04 L253.79,1008.16 L257.31,1006.33 L260.83,1004.53 L264.36,1002.78 L267.88,1001.05 L271.41,999.34 L274.93,997.66 L278.45,995.99 L281.98,994.36 L285.5,992.75 L289.03,991.18 L292.55,989.63 L296.07,988.09 L299.6,986.57 L303.12,985.05 L306.65,983.54 L310.17,982.03 L313.69,980.51 L317.22,978.98 L320.74,977.43 L324.27,975.87 L327.79,974.31 L331.31,972.76 L334.84,971.24 L338.36,969.74 L341.89,968.28 L345.41,966.86 L348.93,965.49 L352.46,964.17 L355.98,962.87 L359.51,961.59 L363.03,960.34 L366.55,959.09 L370.08,957.85 L373.6,956.61 L377.13,955.38 L380.65,954.13 L384.17,952.88 L387.7,951.62 L391.22,950.36 L394.75,949.09 L398.27,947.83 L401.79,946.57 L405.32,945.31 L408.84,944.06 L412.37,942.83 L415.89,941.61 L419.41,940.4 L422.94,939.22 L426.46,938.05 L429.99,936.9 L433.51,935.76 L437.03,934.62 L440.56,933.49 L444.08,932.37 L447.61,931.24 L451.13,930.1 L454.65,928.96 L458.18,927.81 L461.7,926.65 L465.23,925.5 L468.75,924.34 L472.27,923.19 L475.8,922.06 L479.32,920.94 L482.85,919.84 L486.37,918.76 L489.89,917.72 L493.42,916.7 L496.94,915.7 L500.47,914.73 L503.99,913.77 L507.52,912.84 L511.04,911.93 L514.56,911.04 L518.09,910.17 L521.61,909.31 L525.14,908.46 L528.66,907.64 L532.18,906.82 L535.71,906.03 L539.23,905.25 L542.76,904.49 L546.28,903.73 L549.8,902.99 L553.33,902.25 L556.85,901.52 L560.38,900.79 L563.9,900.06 L567.42,899.34 L570.95,898.62 L574.47,897.9 L578,897.19 L581.52,896.49 L585.04,895.79 L588.57,895.1 L592.09,894.42 L595.62,893.74 L599.14,893.08 L602.66,892.43 L606.19,891.78 L609.71,891.15 L613.24,890.51 L616.76,889.89 L620.28,889.27 L623.81,888.66 L627.33,888.06 L630.86,887.47 L634.38,886.88 L637.9,886.3 L641.43,885.73 L644.95,885.17 L648.48,884.62 L652,884.07 L652,973.87 L648.48,974 L644.95,974.12 L641.43,974.25 L637.9,974.39 L634.38,974.52 L630.86,974.65 L627.33,974.79 L623.81,974.93 L620.28,975.06 L616.76,975.2 L613.24,975.34 L609.71,975.49 L606.19,975.63 L602.66,975.77 L599.14,975.91 L595.62,976.06 L592.09,976.22 L588.57,976.37 L585.04,976.53 L581.52,976.69 L578,976.86 L574.47,977.02 L570.95,977.18 L567.42,977.35 L563.9,977.51 L560.38,977.67 L556.85,977.82 L553.33,977.98 L549.8,978.13 L546.28,978.29 L542.76,978.45 L539.23,978.62 L535.71,978.8 L532.18,978.99 L528.66,979.2 L525.14,979.41 L521.61,979.64 L518.09,979.87 L514.56,980.12 L511.04,980.38 L507.52,980.64 L503.99,980.9 L500.47,981.16 L496.94,981.41 L493.42,981.67 L489.89,981.93 L486.37,982.2 L482.85,982.48 L479.32,982.77 L475.8,983.07 L472.27,983.37 L468.75,983.67 L465.23,983.98 L461.7,984.28 L458.18,984.57 L454.65,984.85 L451.13,985.12 L447.61,985.39 L444.08,985.64 L440.56,985.9 L437.03,986.16 L433.51,986.44 L429.99,986.73 L426.46,987.03 L422.94,987.36 L419.41,987.72 L415.89,988.11 L412.37,988.54 L408.84,988.99 L405.32,989.47 L401.79,989.97 L398.27,990.51 L394.75,991.07 L391.22,991.65 L387.7,992.25 L384.17,992.88 L380.65,993.53 L377.13,994.2 L373.6,994.9 L370.08,995.62 L366.55,996.37 L363.03,997.15 L359.51,997.97 L355.98,998.82 L352.46,999.71 L348.93,1000.64 L345.41,1001.62 L341.89,1002.66 L338.36,1003.76 L334.84,1004.89 L331.31,1006.06 L327.79,1007.24 L324.27,1008.43 L320.74,1009.62 L317.22,1010.79 L313.69,1011.94 L310.17,1013.06 L306.65,1014.16 L303.12,1015.24 L299.6,1016.31 L296.07,1017.38 L292.55,1018.47 L289.03,1019.56 L285.5,1020.67 L281.98,1021.81 L278.45,1022.98 L274.93,1024.17 L271.41,1025.37 L267.88,1026.58 L264.36,1027.82 L260.83,1029.07 L257.31,1030.36 L253.79,1031.67 L250.26,1033.01 L246.74,1034.4 L243.21,1035.82 L239.69,1037.31 L236.17,1038.84 L232.64,1040.41 L229.12,1042.02 L225.59,1043.66 L222.07,1045.32 L218.55,1046.99 L215.02,1048.68 L211.5,1050.37 L207.97,1052.09 L204.45,1053.84 L200.93,1055.62 L197.4,1057.43 L193.88,1059.27 L190.35,1061.14 L186.83,1063.03 L183.3,1064.95 L179.78,1066.9 L176.26,1068.92 L172.73,1071 L169.21,1073.14 L165.68,1075.29 L162.16,1077.44 L158.64,1079.57 L155.11,1081.72 L151.59,1083.91 L148.06,1086.14 L144.54,1088.44 L141.02,1090.82 L137.49,1093.29 L133.97,1095.79 L130.44,1098.22 L126.92,1100.58 L123.4,1102.96 L119.87,1105.45 L116.35,1108.14 L112.82,1111.13 L109.3,1114.47 L105.78,1118.14 L102.25,1122.12 L98.73,1126.38 L95.2,1130.89 L91.68,1135.63Z" fill="#D55E00" fill-opacity="0.2"/>
<path d="M91.68,1135.63 L95.2,1130.74 L98.73,1126.06 L102.25,1121.63 L105.78,1117.47 L109.3,1113.62 L112.82,1110.11 L116.35,1106.93 L119.87,1104.03 L123.4,1101.33 L126.92,1098.75 L130.44,1096.2 L133.97,1093.59 L137.49,1090.96 L141.02,1088.37 L144.54,1085.81 L148.06,1083.27 L151.59,1080.74 L155.11,1078.15 L158.64,1075.51 L162.16,1072.81 L165.68,1070.03 L169.21,1067.2 L172.73,1064.33 L176.26,1061.45 L179.78,1058.56 L183.3,1055.7 L186.83,1052.88 L190.35,1050.12 L193.88,1047.4 L197.4,1044.63 L200.93,1041.83 L204.45,1039.02 L207.97,1036.21 L211.5,1033.44 L215.02,1030.71 L218.55,1028.05 L222.07,1025.47 L225.59,1023 L229.12,1020.65 L232.64,1018.44 L236.17,1016.3 L239.69,1014.21 L243.21,1012.17 L246.74,1010.18 L250.26,1008.23 L253.79,1006.33 L257.31,1004.46 L260.83,1002.62 L264.36,1000.82 L267.88,999.03 L271.41,997.27 L274.93,995.53 L278.45,993.81 L281.98,992.09 L285.5,990.38 L289.03,988.68 L292.55,986.97 L296.07,985.26 L299.6,983.56 L303.12,981.85 L306.65,980.17 L310.17,978.5 L313.69,976.86 L317.22,975.24 L320.74,973.65 L324.27,972.1 L327.79,970.58 L331.31,969.09 L334.84,967.64 L338.36,966.22 L341.89,964.82 L345.41,963.45 L348.93,962.09 L352.46,960.74 L355.98,959.4 L359.51,958.05 L363.03,956.7 L366.55,955.34 L370.08,953.97 L373.6,952.61 L377.13,951.26 L380.65,949.9 L384.17,948.55 L387.7,947.19 L391.22,945.83 L394.75,944.46 L398.27,943.08 L401.79,941.69 L405.32,940.28 L408.84,938.84 L412.37,937.39 L415.89,935.94 L419.41,934.49 L422.94,933.05 L426.46,931.62 L429.99,930.22 L433.51,928.84 L437.03,927.5 L440.56,926.2 L444.08,924.92 L447.61,923.66 L451.13,922.41 L454.65,921.18 L458.18,919.97 L461.7,918.76 L465.23,917.55 L468.75,916.34 L472.27,915.14 L475.8,913.93 L479.32,912.73 L482.85,911.53 L486.37,910.34 L489.89,909.16 L493.42,907.98 L496.94,906.8 L500.47,905.62 L503.99,904.45 L507.52,903.28 L511.04,902.1 L514.56,900.91 L518.09,899.72 L521.61,898.52 L525.14,897.32 L528.66,896.13 L532.18,894.96 L535.71,893.8 L539.23,892.67 L542.76,891.56 L546.28,890.49 L549.8,889.43 L553.33,888.4 L556.85,887.38 L560.38,886.38 L563.9,885.38 L567.42,884.39 L570.95,883.4 L574.47,882.41 L578,881.41 L581.52,880.4 L585.04,879.39 L588.57,878.38 L592.09,877.36 L595.62,876.34 L599.14,875.33 L602.66,874.32 L606.19,873.32 L609.71,872.32 L613.24,871.34 L616.76,870.37 L620.28,869.4 L623.81,868.45 L627.33,867.5 L630.86,866.55 L634.38,865.61 L637.9,864.68 L641.43,863.76 L644.95,862.84 L648.48,861.93 L652,861.03 L652,953.83 L648.48,953.76 L644.95,953.71 L641.43,953.67 L637.9,953.64 L634.38,953.62 L630.86,953.62 L627.33,953.63 L623.81,953.65 L620.28,953.68 L616.76,953.72 L613.24,953.77 L609.71,953.85 L606.19,953.94 L602.66,954.05 L599.14,954.16 L595.62,954.29 L592.09,954.43 L588.57,954.57 L585.04,954.72 L581.52,954.87 L578,955.01 L574.47,955.16 L570.95,955.31 L567.42,955.46 L563.9,955.63 L560.38,955.8 L556.85,955.99 L553.33,956.2 L549.8,956.43 L546.28,956.68 L542.76,956.97 L539.23,957.3 L535.71,957.66 L532.18,958.05 L528.66,958.46 L525.14,958.9 L521.61,959.35 L518.09,959.81 L514.56,960.27 L511.04,960.73 L507.52,961.19 L503.99,961.65 L500.47,962.11 L496.94,962.57 L493.42,963.04 L489.89,963.52 L486.37,964.01 L482.85,964.5 L479.32,965 L475.8,965.51 L472.27,966.04 L468.75,966.57 L465.23,967.1 L461.7,967.63 L458.18,968.18 L454.65,968.74 L451.13,969.31 L447.61,969.91 L444.08,970.52 L440.56,971.17 L437.03,971.84 L433.51,972.56 L429.99,973.32 L426.46,974.11 L422.94,974.93 L419.41,975.78 L415.89,976.64 L412.37,977.51 L408.84,978.38 L405.32,979.25 L401.79,980.11 L398.27,980.95 L394.75,981.79 L391.22,982.62 L387.7,983.46 L384.17,984.3 L380.65,985.15 L377.13,986.01 L373.6,986.87 L370.08,987.76 L366.55,988.66 L363.03,989.57 L359.51,990.48 L355.98,991.4 L352.46,992.33 L348.93,993.27 L345.41,994.23 L341.89,995.21 L338.36,996.22 L334.84,997.25 L331.31,998.32 L327.79,999.43 L324.27,1000.58 L320.74,1001.76 L317.22,1002.96 L313.69,1004.2 L310.17,1005.46 L306.65,1006.73 L303.12,1008.02 L299.6,1009.33 L296.07,1010.65 L292.55,1011.99 L289.03,1013.33 L285.5,1014.68 L281.98,1016.04 L278.45,1017.4 L274.93,1018.78 L271.41,1020.18 L267.88,1021.58 L264.36,1023 L260.83,1024.44 L257.31,1025.89 L253.79,1027.36 L250.26,1028.85 L246.74,1030.36 L243.21,1031.89 L239.69,1033.44 L236.17,1035.01 L232.64,1036.61 L229.12,1038.23 L225.59,1039.86 L222.07,1041.51 L218.55,1043.18 L215.02,1044.89 L211.5,1046.63 L207.97,1048.4 L204.45,1050.22 L200.93,1052.08 L197.4,1053.99 L193.88,1055.95 L190.35,1057.96 L186.83,1060.03 L183.3,1062.16 L179.78,1064.32 L176.26,1066.52 L172.73,1068.75 L169.21,1071.01 L165.68,1073.27 L162.16,1075.54 L158.64,1077.8 L155.11,1080.09 L151.59,1082.41 L148.06,1084.77 L144.54,1087.14 L141.02,1089.55 L137.49,1091.99 L133.97,1094.48 L130.44,1096.95 L126.92,1099.38 L123.4,1101.85 L119.87,1104.45 L116.35,1107.25 L112.82,1110.34 L109.3,1113.79 L105.78,1117.58 L102.25,1121.69 L98.73,1126.08 L95.2,1130.74 L91.68,1135.63Z" fill="#0072B2" fill-opacity="0.2"/>
<path d="M91.68,1135.63 L95.2,1130.88 L98.73,1126.34 L102.25,1122.04 L105.78,1118 L109.3,1114.26 L112.82,1110.83 L116.35,1107.73 L119.87,1104.92 L123.4,1102.29 L126.92,1099.76 L130.44,1097.26 L133.97,1094.68 L137.49,1092.03 L141.02,1089.37 L144.54,1086.71 L148.06,1084.08 L151.59,1081.46 L155.11,1078.84 L158.64,1076.24 L162.16,1073.67 L165.68,1071.14 L169.21,1068.64 L172.73,1066.17 L176.26,1063.71 L179.78,1061.27 L183.3,1058.84 L186.83,1056.4 L190.35,1053.95 L193.88,1051.44 L197.4,1048.89 L200.93,1046.31 L204.45,1043.71 L207.97,1041.11 L211.5,1038.51 L215.02,1035.93 L218.55,1033.39 L222.07,1030.9 L225.59,1028.47 L229.12,1026.11 L232.64,1023.84 L236.17,1021.6 L239.69,1019.37 L243.21,1017.17 L246.74,1014.98 L250.26,1012.83 L253.79,1010.7 L257.31,1008.61 L260.83,1006.55 L264.36,1004.52 L267.88,1002.53 L271.41,1000.58 L274.93,998.65 L278.45,996.75 L281.98,994.88 L285.5,993.02 L289.03,991.18 L292.55,989.34 L296.07,987.52 L299.6,985.7 L303.12,983.88 L306.65,982.07 L310.17,980.28 L313.69,978.52 L317.22,976.78 L320.74,975.07 L324.27,973.41 L327.79,971.79 L331.31,970.22 L334.84,968.7 L338.36,967.21 L341.89,965.74 L345.41,964.29 L348.93,962.85 L352.46,961.41 L355.98,959.96 L359.51,958.49 L363.03,957 L366.55,955.49 L370.08,953.97 L373.6,952.43 L377.13,950.85 L380.65,949.24 L384.17,947.59 L387.7,945.93 L391.22,944.25 L394.75,942.57 L398.27,940.88 L401.79,939.16 L405.32,937.44 L408.84,935.7 L412.37,933.95 L415.89,932.19 L419.41,930.42 L422.94,928.65 L426.46,926.87 L429.99,925.1 L433.51,923.32 L437.03,921.56 L440.56,919.8 L444.08,918.05 L447.61,916.3 L451.13,914.56 L454.65,912.82 L458.18,911.07 L461.7,909.32 L465.23,907.56 L468.75,905.8 L472.27,904.03 L475.8,902.27 L479.32,900.51 L482.85,898.77 L486.37,897.04 L489.89,895.34 L493.42,893.67 L496.94,892.03 L500.47,890.43 L503.99,888.87 L507.52,887.34 L511.04,885.84 L514.56,884.37 L518.09,882.92 L521.61,881.48 L525.14,880.06 L528.66,878.65 L532.18,877.26 L535.71,875.88 L539.23,874.53 L542.76,873.2 L546.28,871.89 L549.8,870.59 L553.33,869.31 L556.85,868.04 L560.38,866.77 L563.9,865.51 L567.42,864.25 L570.95,862.99 L574.47,861.72 L578,860.44 L581.52,859.15 L585.04,857.86 L588.57,856.58 L592.09,855.3 L595.62,854.04 L599.14,852.8 L602.66,851.58 L606.19,850.39 L609.71,849.23 L613.24,848.08 L616.76,846.96 L620.28,845.85 L623.81,844.75 L627.33,843.67 L630.86,842.6 L634.38,841.56 L637.9,840.53 L641.43,839.51 L644.95,838.52 L648.48,837.54 L652,836.59 L652,935.19 L648.48,935.53 L644.95,935.89 L641.43,936.26 L637.9,936.64 L634.38,937.04 L630.86,937.44 L627.33,937.85 L623.81,938.27 L620.28,938.7 L616.76,939.14 L613.24,939.59 L609.71,940.04 L606.19,940.51 L602.66,941 L599.14,941.52 L595.62,942.05 L592.09,942.59 L588.57,943.14 L585.04,943.69 L581.52,944.24 L578,944.79 L574.47,945.32 L570.95,945.84 L567.42,946.34 L563.9,946.84 L560.38,947.33 L556.85,947.81 L553.33,948.3 L549.8,948.8 L546.28,949.3 L542.76,949.81 L539.23,950.34 L535.71,950.89 L532.18,951.45 L528.66,952.02 L525.14,952.6 L521.61,953.2 L518.09,953.81 L514.56,954.42 L511.04,955.05 L507.52,955.66 L503.99,956.25 L500.47,956.83 L496.94,957.41 L493.42,957.98 L489.89,958.55 L486.37,959.11 L482.85,959.66 L479.32,960.21 L475.8,960.75 L472.27,961.28 L468.75,961.8 L465.23,962.3 L461.7,962.79 L458.18,963.27 L454.65,963.75 L451.13,964.22 L447.61,964.7 L444.08,965.2 L440.56,965.71 L437.03,966.25 L433.51,966.82 L429.99,967.43 L426.46,968.07 L422.94,968.73 L419.41,969.44 L415.89,970.17 L412.37,970.95 L408.84,971.76 L405.32,972.61 L401.79,973.5 L398.27,974.44 L394.75,975.42 L391.22,976.46 L387.7,977.56 L384.17,978.72 L380.65,979.94 L377.13,981.21 L373.6,982.53 L370.08,983.89 L366.55,985.27 L363.03,986.65 L359.51,988.02 L355.98,989.38 L352.46,990.73 L348.93,992.09 L345.41,993.45 L341.89,994.83 L338.36,996.22 L334.84,997.65 L331.31,999.1 L327.79,1000.6 L324.27,1002.14 L320.74,1003.72 L317.22,1005.33 L313.69,1006.97 L310.17,1008.62 L306.65,1010.29 L303.12,1011.95 L299.6,1013.6 L296.07,1015.23 L292.55,1016.83 L289.03,1018.42 L285.5,1019.98 L281.98,1021.54 L278.45,1023.09 L274.93,1024.64 L271.41,1026.19 L267.88,1027.75 L264.36,1029.32 L260.83,1030.9 L257.31,1032.51 L253.79,1034.12 L250.26,1035.75 L246.74,1037.39 L243.21,1039.04 L239.69,1040.7 L236.17,1042.36 L232.64,1044.02 L229.12,1045.67 L225.59,1047.25 L222.07,1048.78 L218.55,1050.28 L215.02,1051.75 L211.5,1053.21 L207.97,1054.67 L204.45,1056.13 L200.93,1057.63 L197.4,1059.16 L193.88,1060.74 L190.35,1062.38 L186.83,1064.08 L183.3,1065.78 L179.78,1067.47 L176.26,1069.18 L172.73,1070.93 L169.21,1072.74 L165.68,1074.61 L162.16,1076.58 L158.64,1078.67 L155.11,1080.87 L151.59,1083.19 L148.06,1085.61 L144.54,1088.08 L141.02,1090.57 L137.49,1093.08 L133.97,1095.59 L130.44,1098.03 L126.92,1100.41 L123.4,1102.81 L119.87,1105.34 L116.35,1108.06 L112.82,1111.07 L109.3,1114.43 L105.78,1118.11 L102.25,1122.1 L98.73,1126.37 L95.2,1130.89 L91.68,1135.63Z" fill="#CC79A7" fill-opacity="0.2"/>
<g stroke="#333333" stroke-width="2.6"><line x1="91.4" y1="1149.9" x2="91.4" y2="1153.6"/><line x1="231.55" y1="1149.9" x2="231.55" y2="1153.6"/><line x1="371.7" y1="1149.9" x2="371.7" y2="1153.6"/><line x1="511.85" y1="1149.9" x2="511.85" y2="1153.6"/><line x1="652" y1="1149.9" x2="652" y2="1153.6"/><line x1="60" y1="1136" x2="63.7" y2="1136"/><line x1="60" y1="1062.97" x2="63.7" y2="1062.97"/><line x1="60" y1="989.95" x2="63.7" y2="989.95"/><line x1="60" y1="916.92" x2="63.7" y2="916.92"/><line x1="60" y1="843.9" x2="63.7" y2="843.9"/></g>
<g font-family="Liberation Sans, sans-serif" font-size="18.2" fill="#1A1A1A"><text x="91.4" y="1169.1" text-anchor="middle">0</text><text x="231.55" y="1169.1" text-anchor="middle">500</text><text x="371.7" y="1169.1" text-anchor="middle">1000</text><text x="511.85" y="1169.1" text-anchor="middle">1500</text><text x="652" y="1169.1" text-anchor="middle">2000</text><text x="57.3" y="1141.91" text-anchor="end">0</text><text x="57.3" y="1068.89" text-anchor="end">200</text><text x="57.3" y="995.86" text-anchor="end">400</text><text x="57.3" y="922.84" text-anchor="end">600</text><text x="57.3" y="849.81" text-anchor="end">800</text></g>
<rect x="93" y="836" width="246.6" height="35.5" fill="#FFFFFF"/>
<rect x="109.8" y="842.4" width="43.7" height="22.5" fill="#D55E00"/>
<rect x="112.7" y="845.3" width="37.9" height="16.7" fill="#EBEBEB"/>
<rect x="112.7" y="845.3" width="37.9" height="16.7" fill="#D55E00" fill-opacity="0.2"/>
<line x1="115" y1="853.65" x2="148.3" y2="853.65" stroke="#D55E00" stroke-width="8.4"/>
<circle cx="131.65" cy="853.65" r="6.9" fill="#D55E00"/>
<text x="165" y="859.95" font-family="Liberation Sans, sans-serif" font-size="17.5" fill="#000">A</text>
<rect x="187" y="842.4" width="43.7" height="22.5" fill="#0072B2"/>
<rect x="189.9" y="845.3" width="37.9" height="16.7" fill="#EBEBEB"/>
<rect x="189.9" y="845.3" width="37.9" height="16.7" fill="#0072B2" fill-opacity="0.2"/>
<line x1="192.2" y1="853.65" x2="225.5" y2="853.65" stroke="#0072B2" stroke-width="8.4"/>
<path d="M208.85,842.92 L218.14,859.02 L199.56,859.02Z" fill="#0072B2"/>
<text x="242.6" y="859.95" font-family="Liberation Sans, sans-serif" font-size="17.5" fill="#000">B</text>
<rect x="265.2" y="842.4" width="43.4" height="22.5" fill="#CC79A7"/>
<rect x="268.1" y="845.3" width="37.6" height="16.7" fill="#EBEBEB"/>
<rect x="268.1" y="845.3" width="37.6" height="16.7" fill="#CC79A7" fill-opacity="0.2"/>
<line x1="270.4" y1="853.65" x2="303.4" y2="853.65" stroke="#CC79A7" stroke-width="8.4"/>
<rect x="280.28" y="847.03" width="13.25" height="13.25" fill="#CC79A7"/>
<text x="320.2" y="859.95" font-family="Liberation Sans, sans-serif" font-size="17.5" fill="#000">C</text>
<text x="375" y="368.3" text-anchor="middle" font-family="Liberation Sans, sans-serif" font-size="19" fill="#000" textLength="184.6" lengthAdjust="spacingAndGlyphs">Number of individuals</text>
<text x="373.2" y="779.6" text-anchor="middle" font-family="Liberation Sans, sans-serif" font-size="19" fill="#000" textLength="185.2" lengthAdjust="spacingAndGlyphs">Number of individuals</text>
<text x="374" y="1194.4" text-anchor="middle" font-family="Liberation Sans, sans-serif" font-size="19" fill="#000" textLength="185.3" lengthAdjust="spacingAndGlyphs">Number of individuals</text>
<text transform="translate(17,156.3) rotate(-90)" x="0" y="0" text-anchor="middle" font-family="Liberation Sans, sans-serif" font-size="18.2" fill="#000" textLength="128.1" lengthAdjust="spacingAndGlyphs">Species diversity</text>
<text transform="translate(14.6,575) rotate(-90)" x="0" y="0" text-anchor="middle" font-family="Liberation Sans, sans-serif" font-size="18.2" fill="#000" textLength="128.3" lengthAdjust="spacingAndGlyphs">Species diversity</text>
<text transform="translate(16.2,989.5) rotate(-90)" x="0" y="0" text-anchor="middle" font-family="Liberation Sans, sans-serif" font-size="18.2" fill="#000" textLength="127.9" lengthAdjust="spacingAndGlyphs">Species diversity</text>
<text x="2" y="24.8" font-family="Liberation Sans, sans-serif" font-size="29" fill="#000">a.</text>
<text x="4.8" y="429" font-family="Liberation Sans, sans-serif" font-size="29" fill="#000">b.</text>
<text x="4.4" y="842.3" font-family="Liberation Sans, sans-serif" font-size="29" fill="#000">c.</text>
</svg>
</body></html>
